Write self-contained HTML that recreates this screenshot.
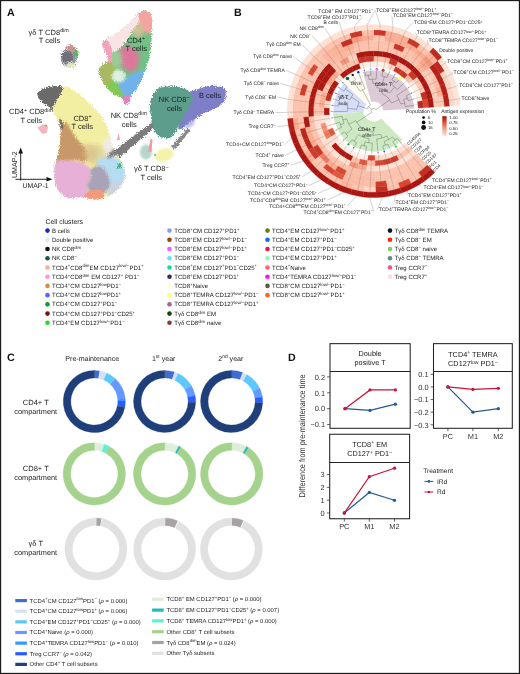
<!DOCTYPE html>
<html lang="en"><head><meta charset="utf-8"><title>Figure</title>
<style>html,body{margin:0;padding:0;background:#fff}body{width:520px;height:674px;overflow:hidden;font-family:"Liberation Sans", sans-serif}</style></head>
<body>
<svg width="520" height="674" viewBox="0 0 520 674" style="display:block;text-rendering:geometricPrecision" font-family='"Liberation Sans", sans-serif'>
<rect x="0" y="0" width="520" height="674" fill="#fff"/>
<g id="panelA">
<defs>
<filter id="b05" x="-20%" y="-20%" width="140%" height="140%"><feGaussianBlur stdDeviation="0.6"/></filter>
<filter id="b1" x="-30%" y="-30%" width="160%" height="160%"><feGaussianBlur stdDeviation="1.2"/></filter>
<filter id="b2" x="-40%" y="-40%" width="180%" height="180%"><feGaussianBlur stdDeviation="2"/></filter>
<filter id="b3" x="-50%" y="-50%" width="200%" height="200%"><feGaussianBlur stdDeviation="3"/></filter>
<filter id="grain" x="-10%" y="-10%" width="120%" height="120%"><feTurbulence type="fractalNoise" baseFrequency="0.9" numOctaves="2" seed="3" result="n"/><feDisplacementMap in="SourceGraphic" in2="n" scale="5" xChannelSelector="R" yChannelSelector="G"/><feGaussianBlur stdDeviation="0.45"/></filter>
<clipPath id="cCD8"><path d="M37.1 95.1 C36.9 93.1 39.1 91.3 41.0 90.0 C42.9 88.7 45.0 87.8 48.2 87.1 C51.4 86.4 56.6 85.8 60.3 86.0 C64.0 86.2 66.4 86.1 70.4 88.1 C74.4 90.1 80.1 94.5 84.5 98.2 C88.9 101.9 93.1 106.3 96.6 110.3 C100.1 114.3 103.5 118.4 105.7 122.4 C107.9 126.4 108.6 130.5 109.8 134.5 C111.0 138.5 110.9 142.2 112.8 146.6 C114.7 151.0 118.9 156.8 120.9 160.8 C122.9 164.9 124.4 167.5 124.9 170.9 C125.4 174.3 125.2 177.7 123.9 181.0 C122.6 184.3 119.7 188.3 116.8 191.0 C113.9 193.7 110.4 195.7 106.7 197.1 C103.0 198.5 98.6 199.4 94.6 199.4 C90.6 199.4 86.9 197.5 82.5 197.3 C78.1 197.1 72.1 198.8 68.4 198.1 C64.7 197.4 62.5 195.6 60.3 193.1 C58.1 190.6 56.2 186.7 55.2 183.0 C54.2 179.3 54.0 174.6 54.2 170.9 C54.4 167.2 55.4 164.5 56.3 160.8 C57.1 157.1 58.6 152.4 59.3 148.7 C60.0 145.0 60.1 142.0 60.3 138.6 C60.5 135.2 61.0 131.9 60.3 128.5 C59.6 125.1 58.0 121.8 56.3 118.4 C54.6 115.0 52.6 111.0 50.2 108.3 C47.8 105.6 44.3 104.4 42.1 102.2 C39.9 100.0 37.3 97.1 37.1 95.1 Z"/></clipPath>
<clipPath id="cCD4"><path d="M143.9 10.6 C146.1 10.3 149.1 10.8 150.4 13.1 C151.8 15.4 151.8 19.9 152.0 24.5 C152.2 29.1 152.1 35.4 151.7 40.8 C151.3 46.2 150.8 51.9 149.6 57.1 C148.4 62.3 146.5 67.2 144.7 71.8 C142.9 76.4 141.3 80.8 139.0 84.9 C136.7 89.0 132.3 93.5 130.8 96.3 C129.3 99.1 130.9 100.6 130.0 102.0 C129.1 103.4 126.5 105.2 125.1 104.5 C123.7 103.8 123.6 99.5 121.8 97.9 C120.0 96.3 117.3 96.9 114.5 94.7 C111.7 92.5 107.3 88.7 104.7 84.9 C102.1 81.1 99.5 75.1 99.0 71.8 C98.5 68.5 99.9 67.2 101.4 65.3 C102.9 63.4 107.9 63.9 108.0 60.4 C108.1 56.9 102.5 47.5 102.2 44.1 C101.9 40.7 102.3 43.0 106.3 40.0 C110.2 37.0 120.7 30.3 125.9 26.1 C131.1 21.9 134.3 17.3 137.3 14.7 C140.3 12.1 141.7 10.9 143.9 10.6 Z"/></clipPath>
<clipPath id="cNK"><path d="M153.1 94.2 C154.5 92.2 156.4 89.4 159.2 88.1 C162.0 86.8 166.4 86.3 170.0 86.2 C173.6 86.1 177.7 86.5 180.8 87.3 C183.9 88.1 186.5 89.7 188.5 91.2 C190.5 92.7 192.2 94.2 192.6 96.5 C193.0 98.8 192.0 102.0 190.8 105.0 C189.6 108.0 187.2 111.1 185.4 114.2 C183.6 117.3 181.7 120.4 180.0 123.5 C178.3 126.6 177.3 130.3 175.4 132.7 C173.5 135.1 171.2 137.5 168.5 138.1 C165.8 138.7 161.6 137.9 159.2 136.5 C156.8 135.1 155.1 132.3 153.8 129.6 C152.5 126.9 152.1 124.0 151.5 120.4 C150.9 116.8 150.1 111.4 150.0 108.1 C149.9 104.8 150.3 102.7 150.8 100.4 C151.3 98.1 151.7 96.2 153.1 94.2 Z"/></clipPath>
<clipPath id="cB"><path d="M187.0 97.0 C187.8 93.9 189.3 92.8 191.0 91.5 C192.7 90.2 194.6 90.3 197.0 89.5 C199.4 88.7 202.2 87.4 205.4 86.8 C208.6 86.2 213.1 85.6 216.2 85.8 C219.3 86.0 222.1 86.7 223.8 88.1 C225.5 89.5 226.5 91.9 226.5 94.2 C226.5 96.5 225.5 99.6 223.8 101.9 C222.1 104.2 219.3 106.3 216.2 108.1 C213.1 109.9 208.6 111.1 205.4 112.7 C202.2 114.3 199.7 115.8 197.0 117.5 C194.3 119.2 191.9 121.2 189.5 123.0 C187.1 124.8 184.3 127.6 182.5 128.5 C180.7 129.4 178.9 129.8 178.5 128.5 C178.1 127.2 178.8 124.1 180.0 121.0 C181.2 117.9 184.8 114.0 186.0 110.0 C187.2 106.0 186.2 100.1 187.0 97.0 Z"/></clipPath>
</defs>
<g filter="url(#grain)">
<path d="M111.5 156.5 L114 150.5 L156 119.5 L159.5 123 L117.5 159 Z" fill="#7b7b7b" filter="url(#b05)"/>
<path d="M171 147 L187 128.5 L190.5 130 L175 149.5 Z" fill="#8a8a8a" filter="url(#b05)"/>
</g>
<g filter="url(#grain)"><g clip-path="url(#cCD8)">
<path d="M37.1 95.1 C36.9 93.1 39.1 91.3 41.0 90.0 C42.9 88.7 45.0 87.8 48.2 87.1 C51.4 86.4 56.6 85.8 60.3 86.0 C64.0 86.2 66.4 86.1 70.4 88.1 C74.4 90.1 80.1 94.5 84.5 98.2 C88.9 101.9 93.1 106.3 96.6 110.3 C100.1 114.3 103.5 118.4 105.7 122.4 C107.9 126.4 108.6 130.5 109.8 134.5 C111.0 138.5 110.9 142.2 112.8 146.6 C114.7 151.0 118.9 156.8 120.9 160.8 C122.9 164.9 124.4 167.5 124.9 170.9 C125.4 174.3 125.2 177.7 123.9 181.0 C122.6 184.3 119.7 188.3 116.8 191.0 C113.9 193.7 110.4 195.7 106.7 197.1 C103.0 198.5 98.6 199.4 94.6 199.4 C90.6 199.4 86.9 197.5 82.5 197.3 C78.1 197.1 72.1 198.8 68.4 198.1 C64.7 197.4 62.5 195.6 60.3 193.1 C58.1 190.6 56.2 186.7 55.2 183.0 C54.2 179.3 54.0 174.6 54.2 170.9 C54.4 167.2 55.4 164.5 56.3 160.8 C57.1 157.1 58.6 152.4 59.3 148.7 C60.0 145.0 60.1 142.0 60.3 138.6 C60.5 135.2 61.0 131.9 60.3 128.5 C59.6 125.1 58.0 121.8 56.3 118.4 C54.6 115.0 52.6 111.0 50.2 108.3 C47.8 105.6 44.3 104.4 42.1 102.2 C39.9 100.0 37.3 97.1 37.1 95.1 Z" fill="#f3efa2"/>
<path d="M107.7 137.6 C109.4 137.6 112.0 139.7 113.8 142.6 C115.7 145.5 119.4 151.9 118.9 154.7 C118.3 157.6 113.1 160.1 110.8 159.8 C108.5 159.4 106.3 155.6 105.1 152.7 C103.9 149.8 103.3 145.1 103.7 142.6 C104.1 140.1 106.1 137.6 107.7 137.6 Z" fill="#efece8" filter="url(#b1)" opacity="1"/>
<path d="M90.6 146.6 C91.9 143.9 96.0 142.9 98.7 144.6 C101.4 146.3 106.7 153.4 106.7 156.7 C106.7 160.1 101.4 164.1 98.7 164.8 C96.0 165.5 91.9 163.8 90.6 160.8 C89.2 157.7 89.2 149.3 90.6 146.6 Z" fill="#e3d6a0" filter="url(#b2)" opacity="1"/>
<path d="M58.3 125.4 C59.6 122.8 64.1 121.8 66.3 122.8 C68.6 123.8 70.1 128.5 72.0 131.5 C74.0 134.5 75.9 138.0 78.1 140.6 C80.2 143.2 83.1 144.4 84.9 147.0 C86.7 149.7 89.2 153.9 89.0 156.3 C88.7 158.8 85.6 161.2 83.5 161.8 C81.4 162.4 79.0 159.8 76.4 159.8 C73.9 159.8 72.1 161.3 68.4 161.8 C64.7 162.3 56.6 164.6 54.2 162.8 C51.9 160.9 53.6 154.7 54.2 150.7 C54.9 146.6 57.6 142.8 58.3 138.6 C58.9 134.4 56.9 128.1 58.3 125.4 Z" fill="#c99868" filter="url(#b1)" opacity="1"/>
<path d="M84.5 144.6 C85.5 142.1 90.4 143.9 92.6 145.6 C94.8 147.3 97.6 151.9 97.6 154.7 C97.6 157.6 94.5 161.8 92.6 162.8 C90.7 163.8 87.9 163.8 86.5 160.8 C85.2 157.7 83.5 147.1 84.5 144.6 Z" fill="#d9c58c" filter="url(#b2)" opacity="0.85"/>
<path d="M96.6 161.8 C97.3 159.9 101.7 157.4 104.7 156.7 C107.7 156.1 111.8 156.6 114.8 157.7 C117.8 158.9 120.9 161.3 122.9 163.8 C124.9 166.3 126.6 169.5 126.9 172.9 C127.3 176.3 126.6 180.6 124.9 184.0 C123.2 187.4 119.5 192.2 116.8 193.1 C114.1 193.9 110.4 192.1 108.8 189.0 C107.1 186.0 108.1 178.4 106.7 174.9 C105.4 171.4 102.4 170.0 100.7 167.8 C99.0 165.7 96.0 163.6 96.6 161.8 Z" fill="#b5dcf1" filter="url(#b1)" opacity="1"/>
<path d="M52.2 161.8 C55.1 160.0 64.0 160.5 68.4 160.4 C72.7 160.3 75.1 160.1 78.5 161.2 C81.8 162.3 86.4 164.2 88.6 166.8 C90.7 169.5 91.8 173.6 91.6 176.9 C91.4 180.3 87.9 183.0 87.6 187.0 C87.2 191.1 91.1 198.8 89.6 201.2 C88.1 203.5 82.0 201.2 78.5 201.2 C74.9 201.2 71.7 202.2 68.4 201.2 C65.0 200.2 61.0 198.1 58.3 195.1 C55.6 192.1 53.4 187.0 52.2 183.0 C51.0 178.9 51.2 174.4 51.2 170.9 C51.2 167.3 49.4 163.5 52.2 161.8 Z" fill="#e7b0d6" filter="url(#b1)" opacity="1"/>
<path d="M90.6 168.9 C92.2 167.1 97.8 165.4 100.7 166.4 C103.5 167.4 106.2 171.5 107.7 174.9 C109.3 178.3 110.8 183.8 109.8 187.0 C108.8 190.2 104.9 193.3 101.7 194.1 C98.5 194.9 93.0 193.6 90.6 192.1 C88.2 190.6 87.0 187.5 87.1 185.0 C87.2 182.5 90.6 179.6 91.2 176.9 C91.8 174.2 89.0 170.6 90.6 168.9 Z" fill="#a9a3ba" filter="url(#b1)" opacity="1"/>
<path d="M110.8 185.0 C112.6 182.5 116.8 180.6 118.9 181.0 C120.9 181.3 123.6 184.7 122.9 187.0 C122.2 189.4 117.3 193.6 114.8 195.1 C112.3 196.6 108.4 197.8 107.7 196.1 C107.1 194.4 108.9 187.5 110.8 185.0 Z" fill="#c9d3e0" filter="url(#b1)" opacity="1"/>
<path d="M85.5 193.5 C86.5 191.4 91.8 190.0 94.6 189.7 C97.5 189.3 101.4 189.8 102.7 191.7 C104.0 193.6 105.1 199.4 102.7 201.2 C100.3 202.9 91.4 203.5 88.6 202.2 C85.7 200.9 84.5 195.6 85.5 193.5 Z" fill="#f59a7a" filter="url(#b05)" opacity="1"/>
<ellipse cx="119.3" cy="165.8" rx="2.4" ry="2.8" fill="#52b184" filter="url(#b05)" opacity="1"/>
<ellipse cx="61.2" cy="124" rx="1.5" ry="5.5" fill="#6b6b6b" filter="url(#b05)" opacity="1" transform="rotate(-12 61.2 124)"/>
<path d="M33 97 L38 88 L47 84 L63 83.5 L62 92 L56 101 L51 110 L40 104 Z" fill="#6b6b6b" filter="url(#b05)"/>
<path d="M107 159 L110 152 L122 144 L126 151 Z" fill="#7a7a7a" filter="url(#b1)"/>
</g></g>
<g filter="url(#grain)"><g clip-path="url(#cCD4)">
<path d="M143.9 10.6 C146.1 10.3 149.1 10.8 150.4 13.1 C151.8 15.4 151.8 19.9 152.0 24.5 C152.2 29.1 152.1 35.4 151.7 40.8 C151.3 46.2 150.8 51.9 149.6 57.1 C148.4 62.3 146.5 67.2 144.7 71.8 C142.9 76.4 141.3 80.8 139.0 84.9 C136.7 89.0 132.3 93.5 130.8 96.3 C129.3 99.1 130.9 100.6 130.0 102.0 C129.1 103.4 126.5 105.2 125.1 104.5 C123.7 103.8 123.6 99.5 121.8 97.9 C120.0 96.3 117.3 96.9 114.5 94.7 C111.7 92.5 107.3 88.7 104.7 84.9 C102.1 81.1 99.5 75.1 99.0 71.8 C98.5 68.5 99.9 67.2 101.4 65.3 C102.9 63.4 107.9 63.9 108.0 60.4 C108.1 56.9 102.5 47.5 102.2 44.1 C101.9 40.7 102.3 43.0 106.3 40.0 C110.2 37.0 120.7 30.3 125.9 26.1 C131.1 21.9 134.3 17.3 137.3 14.7 C140.3 12.1 141.7 10.9 143.9 10.6 Z" fill="#6fc384"/>
<path d="M135.7 14.7 C136.9 12.6 141.1 9.5 143.9 9.0 C146.6 8.4 150.3 8.8 152.0 11.4 C153.7 14.0 154.0 20.8 154.0 24.5 C154.0 28.2 153.4 32.1 152.0 33.5 C150.6 34.8 147.4 33.6 145.5 32.6 C143.6 31.7 142.1 29.7 140.6 27.7 C139.1 25.8 137.3 23.4 136.5 21.2 C135.7 19.0 134.5 16.7 135.7 14.7 Z" fill="#f3a4a1" filter="url(#b1)" opacity="1"/>
<path d="M129.2 24.5 C130.3 22.6 135.2 19.0 137.3 19.6 C139.5 20.1 141.1 25.2 142.2 27.7 C143.3 30.3 144.9 33.6 143.9 35.1 C142.8 36.6 137.9 37.4 135.7 36.7 C133.5 36.0 131.9 33.1 130.8 31.0 C129.7 29.0 128.1 26.4 129.2 24.5 Z" fill="#dcc09a" filter="url(#b2)" opacity="0.9"/>
<path d="M119.4 50.6 C121.0 48.1 124.8 46.0 127.5 45.7 C130.3 45.4 133.8 46.8 135.7 49.0 C137.6 51.1 138.8 55.5 139.0 58.8 C139.1 62.0 138.1 66.4 136.5 68.5 C134.9 70.7 131.3 71.9 129.2 71.8 C127.0 71.7 125.3 69.6 123.5 67.7 C121.6 65.8 118.8 63.2 118.1 60.4 C117.4 57.5 117.8 53.0 119.4 50.6 Z" fill="#e8709f" filter="url(#b2)" opacity="0.92"/>
<path d="M110.4 53.9 C111.9 51.1 115.7 47.6 117.7 49.0 C119.8 50.3 122.9 58.6 122.6 62.0 C122.4 65.4 118.4 68.8 116.1 69.4 C113.8 69.9 109.7 67.9 108.8 65.3 C107.8 62.7 108.9 56.6 110.4 53.9 Z" fill="#9ccf9a" filter="url(#b2)" opacity="0.9"/>
<path d="M96.5 71.8 C96.4 68.8 97.9 66.3 99.8 64.5 C101.7 62.6 105.7 60.6 108.0 60.7 C110.2 60.9 112.0 63.2 113.2 65.3 C114.3 67.4 115.1 70.4 114.8 73.4 C114.5 76.5 113.0 81.3 111.5 83.6 C110.1 85.9 108.1 87.5 106.3 87.3 C104.5 87.1 102.2 85.0 100.6 82.4 C99.0 79.8 96.7 74.8 96.5 71.8 Z" fill="#a9b962" filter="url(#b1)" opacity="1"/>
<path d="M117.7 84.9 C118.4 81.7 124.3 78.9 127.5 76.7 C130.8 74.5 134.2 72.6 137.3 71.8 C140.5 71.0 145.8 69.5 146.3 71.8 C146.9 74.1 142.8 81.5 140.6 85.7 C138.4 89.9 136.1 95.5 133.3 97.1 C130.4 98.7 126.0 97.5 123.5 95.5 C120.9 93.4 117.1 88.0 117.7 84.9 Z" fill="#72b2ea" filter="url(#b1)" opacity="1"/>
<path d="M104.7 87.3 C104.4 84.9 110.5 81.7 112.8 81.6 C115.2 81.5 116.8 83.9 118.6 86.5 C120.3 89.1 124.1 95.5 123.5 97.1 C122.8 98.7 117.6 97.9 114.5 96.3 C111.4 94.7 105.0 89.8 104.7 87.3 Z" fill="#82c955" filter="url(#b1)" opacity="1"/>
<ellipse cx="118.6" cy="76.2" rx="6.8" ry="6.6" fill="#dff1de" filter="url(#b1)" opacity="1"/>
<path d="M105.5 39.2 C106.5 36.5 112.6 33.7 116.1 31.0 C119.7 28.3 123.3 25.6 126.7 22.8 C130.1 20.1 134.5 14.8 136.5 14.4 C138.6 14.0 139.6 17.8 139.0 20.4 C138.3 23.0 134.6 27.1 132.8 30.2 C130.9 33.3 129.8 36.3 127.9 39.2 C125.9 42.0 123.5 45.1 121.0 47.3 C118.6 49.6 114.9 52.6 113.2 52.6 C111.4 52.6 111.7 49.6 110.4 47.3 C109.1 45.1 104.6 41.9 105.5 39.2 Z" fill="#f8e3e5" filter="url(#b05)" opacity="1"/>
<path d="M100.6 44.4 C100.9 42.3 104.6 39.0 106.3 39.5 C108.0 40.0 109.7 44.9 110.7 47.3 C111.7 49.7 112.2 51.6 112.4 53.9 C112.5 56.1 112.3 59.5 111.5 60.7 C110.8 61.9 108.8 62.6 107.6 61.2 C106.4 59.8 105.5 55.0 104.4 52.2 C103.2 49.4 100.3 46.5 100.6 44.4 Z" fill="#f4a1b9" filter="url(#b05)" opacity="1"/>
<path d="M121.0 97.6 C122.2 96.0 130.0 95.1 131.6 96.0 C133.3 96.8 131.9 101.2 130.8 102.8 C129.7 104.5 126.4 106.6 124.8 105.8 C123.1 104.9 119.9 99.2 121.0 97.6 Z" fill="#e283c2" filter="url(#b05)" opacity="1"/>
</g></g>
<g filter="url(#grain)">
<path d="M187.0 97.0 C187.8 93.9 189.3 92.8 191.0 91.5 C192.7 90.2 194.6 90.3 197.0 89.5 C199.4 88.7 202.2 87.4 205.4 86.8 C208.6 86.2 213.1 85.6 216.2 85.8 C219.3 86.0 222.1 86.7 223.8 88.1 C225.5 89.5 226.5 91.9 226.5 94.2 C226.5 96.5 225.5 99.6 223.8 101.9 C222.1 104.2 219.3 106.3 216.2 108.1 C213.1 109.9 208.6 111.1 205.4 112.7 C202.2 114.3 199.7 115.8 197.0 117.5 C194.3 119.2 191.9 121.2 189.5 123.0 C187.1 124.8 184.3 127.6 182.5 128.5 C180.7 129.4 178.9 129.8 178.5 128.5 C178.1 127.2 178.8 124.1 180.0 121.0 C181.2 117.9 184.8 114.0 186.0 110.0 C187.2 106.0 186.2 100.1 187.0 97.0 Z" fill="#7e7ec9"/>
<path d="M153.1 94.2 C154.5 92.2 156.4 89.4 159.2 88.1 C162.0 86.8 166.4 86.3 170.0 86.2 C173.6 86.1 177.7 86.5 180.8 87.3 C183.9 88.1 186.5 89.7 188.5 91.2 C190.5 92.7 192.2 94.2 192.6 96.5 C193.0 98.8 192.0 102.0 190.8 105.0 C189.6 108.0 187.2 111.1 185.4 114.2 C183.6 117.3 181.7 120.4 180.0 123.5 C178.3 126.6 177.3 130.3 175.4 132.7 C173.5 135.1 171.2 137.5 168.5 138.1 C165.8 138.7 161.6 137.9 159.2 136.5 C156.8 135.1 155.1 132.3 153.8 129.6 C152.5 126.9 152.1 124.0 151.5 120.4 C150.9 116.8 150.1 111.4 150.0 108.1 C149.9 104.8 150.3 102.7 150.8 100.4 C151.3 98.1 151.7 96.2 153.1 94.2 Z" fill="#5d9d8c"/>
</g>
<ellipse cx="190" cy="124" rx="6" ry="3" fill="#9a9ad6" filter="url(#b1)" opacity="0.6" transform="rotate(-40 190 124)"/>
<ellipse cx="146" cy="152" rx="6" ry="7.5" fill="#b6d6cd" filter="url(#b1)" opacity="1"/>
<ellipse cx="164" cy="155" rx="10" ry="6.5" fill="#f3f3aa" filter="url(#b1)" opacity="1" transform="rotate(-15 164 155)"/>
<path d="M148 152 L150.5 139 L152.5 139.5 L151.5 152 Z" fill="#f29a9a" filter="url(#b05)"/>
<circle cx="155" cy="155" r="0.8" fill="#3355cc"/>
<path d="M117 140 L118.5 133 L120 140 Z" fill="#f0a0c0" filter="url(#b05)"/>
<g filter="url(#grain)">
<ellipse cx="69" cy="57" rx="8" ry="10" fill="#8f9aa0" filter="url(#b05)" opacity="1" transform="rotate(10 69 57)"/>
<ellipse cx="71" cy="49" rx="5" ry="4" fill="#c99393" filter="url(#b05)" opacity="1"/>
<ellipse cx="67" cy="57" rx="5.5" ry="6" fill="#70707a" filter="url(#b05)" opacity="1"/>
<ellipse cx="76" cy="53" rx="2.5" ry="4" fill="#62b162" filter="url(#b05)" opacity="1"/>
<ellipse cx="71" cy="65" rx="5" ry="3" fill="#dfe6c0" filter="url(#b05)" opacity="1"/>
</g>
<path d="M37.3 127.8 L43.5 124.3 L48 126.3 L46.8 132.8 L42.5 134 Z" fill="#f5b3c2" filter="url(#b05)"/>
<ellipse cx="45.8" cy="125.6" rx="1.6" ry="1.1" fill="#9cc070" filter="url(#b05)" opacity="1"/>
<path d="M20.7 180.5 V152" stroke="#111" stroke-width="0.9" fill="none"/>
<path d="M20.7 147.5 L18.4 153.5 H23 Z" fill="#111"/>
<path d="M15.5 179.3 H47" stroke="#111" stroke-width="0.9" fill="none"/>
<path d="M52.5 179.3 L46.5 177 V181.6 Z" fill="#111"/>
<text transform="translate(17.0 178.0) rotate(-90)" font-size="7.1" fill="#222">UMAP-2</text>
<text x="22.50" y="188.20" font-size="6.90" text-anchor="start" fill="#222" >UMAP-1</text>
<text x="48.70" y="35.00" font-size="7.50" text-anchor="middle" fill="#222" >γδ T CD8<tspan dy="-2.70" font-size="5.40">dim</tspan></text>
<text x="49.40" y="43.30" font-size="7.50" text-anchor="middle" fill="#222" >T cells</text>
<text x="136.00" y="42.50" font-size="7.50" text-anchor="middle" fill="#222" >CD4<tspan dy="-2.70" font-size="5.40">+</tspan></text>
<text x="136.20" y="51.40" font-size="7.50" text-anchor="middle" fill="#222" >T cells</text>
<text x="174.20" y="101.50" font-size="7.50" text-anchor="middle" fill="#222" >NK CD8<tspan dy="-2.70" font-size="5.40">−</tspan></text>
<text x="174.40" y="110.80" font-size="7.50" text-anchor="middle" fill="#222" >cells</text>
<text x="210.00" y="97.80" font-size="7.50" text-anchor="middle" fill="#222" >B cells</text>
<text x="128.80" y="118.00" font-size="7.50" text-anchor="middle" fill="#222" >NK CD8<tspan dy="-2.70" font-size="5.40">dim</tspan></text>
<text x="129.30" y="127.00" font-size="7.50" text-anchor="middle" fill="#222" >cells</text>
<text x="151.30" y="171.40" font-size="7.50" text-anchor="middle" fill="#222" >γδ T CD8<tspan dy="-2.70" font-size="5.40">−</tspan></text>
<text x="151.20" y="180.40" font-size="7.50" text-anchor="middle" fill="#222" >T cells</text>
<text x="82.50" y="120.60" font-size="7.50" text-anchor="middle" fill="#222" >CD8<tspan dy="-2.70" font-size="5.40">+</tspan></text>
<text x="82.30" y="129.00" font-size="7.50" text-anchor="middle" fill="#222" >T cells</text>
<text x="31.00" y="114.30" font-size="7.50" text-anchor="middle" fill="#222" >CD4<tspan dy="-2.70" font-size="5.40">+</tspan><tspan dy="2.70"> CD8</tspan><tspan dy="-2.70" font-size="5.40">dim</tspan></text>
<text x="31.20" y="123.10" font-size="7.50" text-anchor="middle" fill="#222" >T cells</text>
<text x="7.00" y="15.50" font-size="10.70" text-anchor="start" fill="#111" font-weight="bold" >A</text>
</g>
<g id="panelB">
<path d="M423.55 107.78 A49.85 49.85 0 0 0 422.50 100.35 L417.37 101.47 A44.60 44.60 0 0 1 418.31 108.12 Z" fill="#c0291e" stroke="#c0291e" stroke-width="0.3"/>
<path d="M428.79 107.44 A55.10 55.10 0 0 0 427.63 99.22 L422.50 100.35 A49.85 49.85 0 0 1 423.55 107.78 Z" fill="#dc4732" stroke="#dc4732" stroke-width="0.3"/>
<path d="M434.02 107.11 A60.35 60.35 0 0 0 432.76 98.10 L427.63 99.22 A55.10 55.10 0 0 1 428.79 107.44 Z" fill="#ac1510" stroke="#ac1510" stroke-width="0.3"/>
<path d="M439.26 106.77 A65.60 65.60 0 0 0 437.88 96.98 L432.76 98.10 A60.35 60.35 0 0 1 434.02 107.11 Z" fill="#fdccb8" stroke="#fdccb8" stroke-width="0.3"/>
<path d="M444.50 106.43 A70.85 70.85 0 0 0 443.01 95.86 L437.88 96.98 A65.60 65.60 0 0 1 439.26 106.77 Z" fill="#fdccb8" stroke="#fdccb8" stroke-width="0.3"/>
<path d="M449.74 106.09 A76.10 76.10 0 0 0 448.14 94.74 L443.01 95.86 A70.85 70.85 0 0 1 444.50 106.43 Z" fill="#b72017" stroke="#b72017" stroke-width="0.3"/>
<path d="M454.98 105.75 A81.35 81.35 0 0 0 453.27 93.61 L448.14 94.74 A76.10 76.10 0 0 1 449.74 106.09 Z" fill="#fdd7c7" stroke="#fdd7c7" stroke-width="0.3"/>
<path d="M460.22 105.41 A86.60 86.60 0 0 0 458.40 92.49 L453.27 93.61 A81.35 81.35 0 0 1 454.98 105.75 Z" fill="#fee5da" stroke="#fee5da" stroke-width="0.3"/>
<path d="M422.50 100.35 A49.85 49.85 0 0 0 420.35 93.15 L415.44 95.03 A44.60 44.60 0 0 1 417.37 101.47 Z" fill="#ffefe7" stroke="#ffefe7" stroke-width="0.3"/>
<path d="M427.63 99.22 A55.10 55.10 0 0 0 425.25 91.27 L420.35 93.15 A49.85 49.85 0 0 1 422.50 100.35 Z" fill="#c63022" stroke="#c63022" stroke-width="0.3"/>
<path d="M432.76 98.10 A60.35 60.35 0 0 0 430.15 89.39 L425.25 91.27 A55.10 55.10 0 0 1 427.63 99.22 Z" fill="#ac1510" stroke="#ac1510" stroke-width="0.3"/>
<path d="M437.88 96.98 A65.60 65.60 0 0 0 435.05 87.51 L430.15 89.39 A60.35 60.35 0 0 1 432.76 98.10 Z" fill="#fdccb8" stroke="#fdccb8" stroke-width="0.3"/>
<path d="M443.01 95.86 A70.85 70.85 0 0 0 439.95 85.63 L435.05 87.51 A65.60 65.60 0 0 1 437.88 96.98 Z" fill="#fab198" stroke="#fab198" stroke-width="0.3"/>
<path d="M448.14 94.74 A76.10 76.10 0 0 0 444.85 83.75 L439.95 85.63 A70.85 70.85 0 0 1 443.01 95.86 Z" fill="#b72017" stroke="#b72017" stroke-width="0.3"/>
<path d="M453.27 93.61 A81.35 81.35 0 0 0 449.76 81.87 L444.85 83.75 A76.10 76.10 0 0 1 448.14 94.74 Z" fill="#fdd4c3" stroke="#fdd4c3" stroke-width="0.3"/>
<path d="M458.40 92.49 A86.60 86.60 0 0 0 454.66 79.99 L449.76 81.87 A81.35 81.35 0 0 1 453.27 93.61 Z" fill="#fee5da" stroke="#fee5da" stroke-width="0.3"/>
<path d="M420.35 93.15 A49.85 49.85 0 0 0 417.14 86.36 L412.57 88.96 A44.60 44.60 0 0 1 415.44 95.03 Z" fill="#ffefe7" stroke="#ffefe7" stroke-width="0.3"/>
<path d="M425.25 91.27 A55.10 55.10 0 0 0 421.70 83.77 L417.14 86.36 A49.85 49.85 0 0 1 420.35 93.15 Z" fill="#fcc6b1" stroke="#fcc6b1" stroke-width="0.3"/>
<path d="M430.15 89.39 A60.35 60.35 0 0 0 426.26 81.17 L421.70 83.77 A55.10 55.10 0 0 1 425.25 91.27 Z" fill="#ac1510" stroke="#ac1510" stroke-width="0.3"/>
<path d="M435.05 87.51 A65.60 65.60 0 0 0 430.83 78.58 L426.26 81.17 A60.35 60.35 0 0 1 430.15 89.39 Z" fill="#fdccb8" stroke="#fdccb8" stroke-width="0.3"/>
<path d="M439.95 85.63 A70.85 70.85 0 0 0 435.39 75.98 L430.83 78.58 A65.60 65.60 0 0 1 435.05 87.51 Z" fill="#fbc0a9" stroke="#fbc0a9" stroke-width="0.3"/>
<path d="M444.85 83.75 A76.10 76.10 0 0 0 439.96 73.39 L435.39 75.98 A70.85 70.85 0 0 1 439.95 85.63 Z" fill="#b72017" stroke="#b72017" stroke-width="0.3"/>
<path d="M449.76 81.87 A81.35 81.35 0 0 0 444.52 70.79 L439.96 73.39 A76.10 76.10 0 0 1 444.85 83.75 Z" fill="#fdd4c3" stroke="#fdd4c3" stroke-width="0.3"/>
<path d="M454.66 79.99 A86.60 86.60 0 0 0 449.08 68.20 L444.52 70.79 A81.35 81.35 0 0 1 449.76 81.87 Z" fill="#fee5da" stroke="#fee5da" stroke-width="0.3"/>
<path d="M417.14 86.36 A49.85 49.85 0 0 0 412.94 80.13 L408.82 83.38 A44.60 44.60 0 0 1 412.57 88.96 Z" fill="#ffefe7" stroke="#ffefe7" stroke-width="0.3"/>
<path d="M421.70 83.77 A55.10 55.10 0 0 0 417.07 76.88 L412.94 80.13 A49.85 49.85 0 0 1 417.14 86.36 Z" fill="#fdccb8" stroke="#fdccb8" stroke-width="0.3"/>
<path d="M426.26 81.17 A60.35 60.35 0 0 0 421.19 73.63 L417.07 76.88 A55.10 55.10 0 0 1 421.70 83.77 Z" fill="#ac1510" stroke="#ac1510" stroke-width="0.3"/>
<path d="M430.83 78.58 A65.60 65.60 0 0 0 425.31 70.38 L421.19 73.63 A60.35 60.35 0 0 1 426.26 81.17 Z" fill="#fdccb8" stroke="#fdccb8" stroke-width="0.3"/>
<path d="M435.39 75.98 A70.85 70.85 0 0 0 429.43 67.13 L425.31 70.38 A65.60 65.60 0 0 1 430.83 78.58 Z" fill="#fcc6b1" stroke="#fcc6b1" stroke-width="0.3"/>
<path d="M439.96 73.39 A76.10 76.10 0 0 0 433.55 63.88 L429.43 67.13 A70.85 70.85 0 0 1 435.39 75.98 Z" fill="#b72017" stroke="#b72017" stroke-width="0.3"/>
<path d="M444.52 70.79 A81.35 81.35 0 0 0 437.68 60.63 L433.55 63.88 A76.10 76.10 0 0 1 439.96 73.39 Z" fill="#c0291e" stroke="#c0291e" stroke-width="0.3"/>
<path d="M449.08 68.20 A86.60 86.60 0 0 0 441.80 57.37 L437.68 60.63 A81.35 81.35 0 0 1 444.52 70.79 Z" fill="#fee5da" stroke="#fee5da" stroke-width="0.3"/>
<path d="M412.94 80.13 A49.85 49.85 0 0 0 407.86 74.60 L404.27 78.43 A44.60 44.60 0 0 1 408.82 83.38 Z" fill="#fcc2ac" stroke="#fcc2ac" stroke-width="0.3"/>
<path d="M417.07 76.88 A55.10 55.10 0 0 0 411.45 70.77 L407.86 74.60 A49.85 49.85 0 0 1 412.94 80.13 Z" fill="#cd3727" stroke="#cd3727" stroke-width="0.3"/>
<path d="M421.19 73.63 A60.35 60.35 0 0 0 415.04 66.93 L411.45 70.77 A55.10 55.10 0 0 1 417.07 76.88 Z" fill="#ac1510" stroke="#ac1510" stroke-width="0.3"/>
<path d="M425.31 70.38 A65.60 65.60 0 0 0 418.62 63.10 L415.04 66.93 A60.35 60.35 0 0 1 421.19 73.63 Z" fill="#fab59d" stroke="#fab59d" stroke-width="0.3"/>
<path d="M429.43 67.13 A70.85 70.85 0 0 0 422.21 59.27 L418.62 63.10 A65.60 65.60 0 0 1 425.31 70.38 Z" fill="#f9a589" stroke="#f9a589" stroke-width="0.3"/>
<path d="M433.55 63.88 A76.10 76.10 0 0 0 425.80 55.43 L422.21 59.27 A70.85 70.85 0 0 1 429.43 67.13 Z" fill="#f69679" stroke="#f69679" stroke-width="0.3"/>
<path d="M437.68 60.63 A81.35 81.35 0 0 0 429.38 51.60 L425.80 55.43 A76.10 76.10 0 0 1 433.55 63.88 Z" fill="#fab198" stroke="#fab198" stroke-width="0.3"/>
<path d="M441.80 57.37 A86.60 86.60 0 0 0 432.97 47.77 L429.38 51.60 A81.35 81.35 0 0 1 437.68 60.63 Z" fill="#c0291e" stroke="#c0291e" stroke-width="0.3"/>
<path d="M407.86 74.60 A49.85 49.85 0 0 0 402.01 69.90 L399.04 74.23 A44.60 44.60 0 0 1 404.27 78.43 Z" fill="#cd3727" stroke="#cd3727" stroke-width="0.3"/>
<path d="M411.45 70.77 A55.10 55.10 0 0 0 404.98 65.57 L402.01 69.90 A49.85 49.85 0 0 1 407.86 74.60 Z" fill="#fcc2ac" stroke="#fcc2ac" stroke-width="0.3"/>
<path d="M415.04 66.93 A60.35 60.35 0 0 0 407.95 61.24 L404.98 65.57 A55.10 55.10 0 0 1 411.45 70.77 Z" fill="#ac1510" stroke="#ac1510" stroke-width="0.3"/>
<path d="M418.62 63.10 A65.60 65.60 0 0 0 410.92 56.91 L407.95 61.24 A60.35 60.35 0 0 1 415.04 66.93 Z" fill="#fcc2ac" stroke="#fcc2ac" stroke-width="0.3"/>
<path d="M422.21 59.27 A70.85 70.85 0 0 0 413.89 52.58 L410.92 56.91 A65.60 65.60 0 0 1 418.62 63.10 Z" fill="#fbbaa2" stroke="#fbbaa2" stroke-width="0.3"/>
<path d="M425.80 55.43 A76.10 76.10 0 0 0 416.86 48.25 L413.89 52.58 A70.85 70.85 0 0 1 422.21 59.27 Z" fill="#f9ab90" stroke="#f9ab90" stroke-width="0.3"/>
<path d="M429.38 51.60 A81.35 81.35 0 0 0 419.83 43.93 L416.86 48.25 A76.10 76.10 0 0 1 425.80 55.43 Z" fill="#fcc2ac" stroke="#fcc2ac" stroke-width="0.3"/>
<path d="M432.97 47.77 A86.60 86.60 0 0 0 422.80 39.60 L419.83 43.93 A81.35 81.35 0 0 1 429.38 51.60 Z" fill="#fee1d4" stroke="#fee1d4" stroke-width="0.3"/>
<path d="M402.01 69.90 A49.85 49.85 0 0 0 395.51 66.13 L393.23 70.85 A44.60 44.60 0 0 1 399.04 74.23 Z" fill="#cd3727" stroke="#cd3727" stroke-width="0.3"/>
<path d="M404.98 65.57 A55.10 55.10 0 0 0 397.80 61.40 L395.51 66.13 A49.85 49.85 0 0 1 402.01 69.90 Z" fill="#fcc2ac" stroke="#fcc2ac" stroke-width="0.3"/>
<path d="M407.95 61.24 A60.35 60.35 0 0 0 400.09 56.67 L397.80 61.40 A55.10 55.10 0 0 1 404.98 65.57 Z" fill="#ac1510" stroke="#ac1510" stroke-width="0.3"/>
<path d="M410.92 56.91 A65.60 65.60 0 0 0 402.37 51.95 L400.09 56.67 A60.35 60.35 0 0 1 407.95 61.24 Z" fill="#fcc2ac" stroke="#fcc2ac" stroke-width="0.3"/>
<path d="M413.89 52.58 A70.85 70.85 0 0 0 404.66 47.22 L402.37 51.95 A65.60 65.60 0 0 1 410.92 56.91 Z" fill="#fcc2ac" stroke="#fcc2ac" stroke-width="0.3"/>
<path d="M416.86 48.25 A76.10 76.10 0 0 0 406.95 42.50 L404.66 47.22 A70.85 70.85 0 0 1 413.89 52.58 Z" fill="#faad93" stroke="#faad93" stroke-width="0.3"/>
<path d="M419.83 43.93 A81.35 81.35 0 0 0 409.23 37.77 L406.95 42.50 A76.10 76.10 0 0 1 416.86 48.25 Z" fill="#cd3727" stroke="#cd3727" stroke-width="0.3"/>
<path d="M422.80 39.60 A86.60 86.60 0 0 0 411.52 33.05 L409.23 37.77 A81.35 81.35 0 0 1 419.83 43.93 Z" fill="#fee1d4" stroke="#fee1d4" stroke-width="0.3"/>
<path d="M395.51 66.13 A49.85 49.85 0 0 0 388.52 63.37 L386.97 68.39 A44.60 44.60 0 0 1 393.23 70.85 Z" fill="#fdd7c7" stroke="#fdd7c7" stroke-width="0.3"/>
<path d="M397.80 61.40 A55.10 55.10 0 0 0 390.08 58.36 L388.52 63.37 A49.85 49.85 0 0 1 395.51 66.13 Z" fill="#cd3727" stroke="#cd3727" stroke-width="0.3"/>
<path d="M400.09 56.67 A60.35 60.35 0 0 0 391.63 53.34 L390.08 58.36 A55.10 55.10 0 0 1 397.80 61.40 Z" fill="#ac1510" stroke="#ac1510" stroke-width="0.3"/>
<path d="M402.37 51.95 A65.60 65.60 0 0 0 393.18 48.33 L391.63 53.34 A60.35 60.35 0 0 1 400.09 56.67 Z" fill="#fcc2ac" stroke="#fcc2ac" stroke-width="0.3"/>
<path d="M404.66 47.22 A70.85 70.85 0 0 0 394.73 43.31 L393.18 48.33 A65.60 65.60 0 0 1 402.37 51.95 Z" fill="#cd3727" stroke="#cd3727" stroke-width="0.3"/>
<path d="M406.95 42.50 A76.10 76.10 0 0 0 396.28 38.30 L394.73 43.31 A70.85 70.85 0 0 1 404.66 47.22 Z" fill="#faad93" stroke="#faad93" stroke-width="0.3"/>
<path d="M409.23 37.77 A81.35 81.35 0 0 0 397.83 33.28 L396.28 38.30 A76.10 76.10 0 0 1 406.95 42.50 Z" fill="#faad93" stroke="#faad93" stroke-width="0.3"/>
<path d="M411.52 33.05 A86.60 86.60 0 0 0 399.38 28.26 L397.83 33.28 A81.35 81.35 0 0 1 409.23 37.77 Z" fill="#fee1d4" stroke="#fee1d4" stroke-width="0.3"/>
<path d="M388.52 63.37 A49.85 49.85 0 0 0 381.20 61.70 L380.42 66.89 A44.60 44.60 0 0 1 386.97 68.39 Z" fill="#ffefe7" stroke="#ffefe7" stroke-width="0.3"/>
<path d="M390.08 58.36 A55.10 55.10 0 0 0 381.98 56.51 L381.20 61.70 A49.85 49.85 0 0 1 388.52 63.37 Z" fill="#fcc2ac" stroke="#fcc2ac" stroke-width="0.3"/>
<path d="M391.63 53.34 A60.35 60.35 0 0 0 382.76 51.32 L381.98 56.51 A55.10 55.10 0 0 1 390.08 58.36 Z" fill="#ac1510" stroke="#ac1510" stroke-width="0.3"/>
<path d="M393.18 48.33 A65.60 65.60 0 0 0 383.54 46.13 L382.76 51.32 A60.35 60.35 0 0 1 391.63 53.34 Z" fill="#fcc2ac" stroke="#fcc2ac" stroke-width="0.3"/>
<path d="M394.73 43.31 A70.85 70.85 0 0 0 384.32 40.94 L383.54 46.13 A65.60 65.60 0 0 1 393.18 48.33 Z" fill="#fcc2ac" stroke="#fcc2ac" stroke-width="0.3"/>
<path d="M396.28 38.30 A76.10 76.10 0 0 0 385.10 35.74 L384.32 40.94 A70.85 70.85 0 0 1 394.73 43.31 Z" fill="#faad93" stroke="#faad93" stroke-width="0.3"/>
<path d="M397.83 33.28 A81.35 81.35 0 0 0 385.88 30.55 L385.10 35.74 A76.10 76.10 0 0 1 396.28 38.30 Z" fill="#faad93" stroke="#faad93" stroke-width="0.3"/>
<path d="M399.38 28.26 A86.60 86.60 0 0 0 386.66 25.36 L385.88 30.55 A81.35 81.35 0 0 1 397.83 33.28 Z" fill="#fee1d4" stroke="#fee1d4" stroke-width="0.3"/>
<path d="M381.20 61.70 A49.85 49.85 0 0 0 373.71 61.15 L373.72 66.40 A44.60 44.60 0 0 1 380.42 66.89 Z" fill="#ffefe7" stroke="#ffefe7" stroke-width="0.3"/>
<path d="M381.98 56.51 A55.10 55.10 0 0 0 373.70 55.90 L373.71 61.15 A49.85 49.85 0 0 1 381.20 61.70 Z" fill="#fcc2ac" stroke="#fcc2ac" stroke-width="0.3"/>
<path d="M382.76 51.32 A60.35 60.35 0 0 0 373.69 50.65 L373.70 55.90 A55.10 55.10 0 0 1 381.98 56.51 Z" fill="#ac1510" stroke="#ac1510" stroke-width="0.3"/>
<path d="M383.54 46.13 A65.60 65.60 0 0 0 373.69 45.40 L373.69 50.65 A60.35 60.35 0 0 1 382.76 51.32 Z" fill="#fcc2ac" stroke="#fcc2ac" stroke-width="0.3"/>
<path d="M384.32 40.94 A70.85 70.85 0 0 0 373.68 40.15 L373.69 45.40 A65.60 65.60 0 0 1 383.54 46.13 Z" fill="#fcc2ac" stroke="#fcc2ac" stroke-width="0.3"/>
<path d="M385.10 35.74 A76.10 76.10 0 0 0 373.67 34.90 L373.68 40.15 A70.85 70.85 0 0 1 384.32 40.94 Z" fill="#fcc6b1" stroke="#fcc6b1" stroke-width="0.3"/>
<path d="M385.88 30.55 A81.35 81.35 0 0 0 373.66 29.65 L373.67 34.90 A76.10 76.10 0 0 1 385.10 35.74 Z" fill="#cd3727" stroke="#cd3727" stroke-width="0.3"/>
<path d="M386.66 25.36 A86.60 86.60 0 0 0 373.65 24.40 L373.66 29.65 A81.35 81.35 0 0 1 385.88 30.55 Z" fill="#fee1d4" stroke="#fee1d4" stroke-width="0.3"/>
<path d="M373.71 61.15 A49.85 49.85 0 0 0 366.23 61.73 L367.02 66.92 A44.60 44.60 0 0 1 373.72 66.40 Z" fill="#ffefe7" stroke="#ffefe7" stroke-width="0.3"/>
<path d="M373.70 55.90 A55.10 55.10 0 0 0 365.43 56.54 L366.23 61.73 A49.85 49.85 0 0 1 373.71 61.15 Z" fill="#cd3727" stroke="#cd3727" stroke-width="0.3"/>
<path d="M373.69 50.65 A60.35 60.35 0 0 0 364.63 51.35 L365.43 56.54 A55.10 55.10 0 0 1 373.70 55.90 Z" fill="#ac1510" stroke="#ac1510" stroke-width="0.3"/>
<path d="M373.69 45.40 A65.60 65.60 0 0 0 363.83 46.16 L364.63 51.35 A60.35 60.35 0 0 1 373.69 50.65 Z" fill="#fcc2ac" stroke="#fcc2ac" stroke-width="0.3"/>
<path d="M373.68 40.15 A70.85 70.85 0 0 0 363.03 40.97 L363.83 46.16 A65.60 65.60 0 0 1 373.69 45.40 Z" fill="#fcc2ac" stroke="#fcc2ac" stroke-width="0.3"/>
<path d="M373.67 34.90 A76.10 76.10 0 0 0 362.24 35.78 L363.03 40.97 A70.85 70.85 0 0 1 373.68 40.15 Z" fill="#faad93" stroke="#faad93" stroke-width="0.3"/>
<path d="M373.66 29.65 A81.35 81.35 0 0 0 361.44 30.59 L362.24 35.78 A76.10 76.10 0 0 1 373.67 34.90 Z" fill="#fbc0a9" stroke="#fbc0a9" stroke-width="0.3"/>
<path d="M373.65 24.40 A86.60 86.60 0 0 0 360.64 25.41 L361.44 30.59 A81.35 81.35 0 0 1 373.66 29.65 Z" fill="#fee1d4" stroke="#fee1d4" stroke-width="0.3"/>
<path d="M366.23 61.73 A49.85 49.85 0 0 0 358.91 63.43 L360.48 68.44 A44.60 44.60 0 0 1 367.02 66.92 Z" fill="#ffefe7" stroke="#ffefe7" stroke-width="0.3"/>
<path d="M365.43 56.54 A55.10 55.10 0 0 0 357.34 58.42 L358.91 63.43 A49.85 49.85 0 0 1 366.23 61.73 Z" fill="#cd3727" stroke="#cd3727" stroke-width="0.3"/>
<path d="M364.63 51.35 A60.35 60.35 0 0 0 355.77 53.41 L357.34 58.42 A55.10 55.10 0 0 1 365.43 56.54 Z" fill="#ac1510" stroke="#ac1510" stroke-width="0.3"/>
<path d="M363.83 46.16 A65.60 65.60 0 0 0 354.20 48.39 L355.77 53.41 A60.35 60.35 0 0 1 364.63 51.35 Z" fill="#fcc2ac" stroke="#fcc2ac" stroke-width="0.3"/>
<path d="M363.03 40.97 A70.85 70.85 0 0 0 352.64 43.38 L354.20 48.39 A65.60 65.60 0 0 1 363.83 46.16 Z" fill="#fbbea7" stroke="#fbbea7" stroke-width="0.3"/>
<path d="M362.24 35.78 A76.10 76.10 0 0 0 351.07 38.37 L352.64 43.38 A70.85 70.85 0 0 1 363.03 40.97 Z" fill="#f89d7f" stroke="#f89d7f" stroke-width="0.3"/>
<path d="M361.44 30.59 A81.35 81.35 0 0 0 349.50 33.36 L351.07 38.37 A76.10 76.10 0 0 1 362.24 35.78 Z" fill="#cd3727" stroke="#cd3727" stroke-width="0.3"/>
<path d="M360.64 25.41 A86.60 86.60 0 0 0 347.93 28.35 L349.50 33.36 A81.35 81.35 0 0 1 361.44 30.59 Z" fill="#fee1d4" stroke="#fee1d4" stroke-width="0.3"/>
<path d="M358.91 63.43 A49.85 49.85 0 0 0 351.93 66.20 L354.23 70.92 A44.60 44.60 0 0 1 360.48 68.44 Z" fill="#af1711" stroke="#af1711" stroke-width="0.3"/>
<path d="M357.34 58.42 A55.10 55.10 0 0 0 349.63 61.48 L351.93 66.20 A49.85 49.85 0 0 1 358.91 63.43 Z" fill="#fcc2ac" stroke="#fcc2ac" stroke-width="0.3"/>
<path d="M355.77 53.41 A60.35 60.35 0 0 0 347.33 56.77 L349.63 61.48 A55.10 55.10 0 0 1 357.34 58.42 Z" fill="#fdd1bf" stroke="#fdd1bf" stroke-width="0.3"/>
<path d="M354.20 48.39 A65.60 65.60 0 0 0 345.02 52.05 L347.33 56.77 A60.35 60.35 0 0 1 355.77 53.41 Z" fill="#fbbaa2" stroke="#fbbaa2" stroke-width="0.3"/>
<path d="M352.64 43.38 A70.85 70.85 0 0 0 342.72 47.33 L345.02 52.05 A65.60 65.60 0 0 1 354.20 48.39 Z" fill="#faad93" stroke="#faad93" stroke-width="0.3"/>
<path d="M351.07 38.37 A76.10 76.10 0 0 0 340.42 42.61 L342.72 47.33 A70.85 70.85 0 0 1 352.64 43.38 Z" fill="#c63022" stroke="#c63022" stroke-width="0.3"/>
<path d="M349.50 33.36 A81.35 81.35 0 0 0 338.11 37.90 L340.42 42.61 A76.10 76.10 0 0 1 351.07 38.37 Z" fill="#fcc2ac" stroke="#fcc2ac" stroke-width="0.3"/>
<path d="M347.93 28.35 A86.60 86.60 0 0 0 335.81 33.18 L338.11 37.90 A81.35 81.35 0 0 1 349.50 33.36 Z" fill="#fee1d4" stroke="#fee1d4" stroke-width="0.3"/>
<path d="M351.93 66.20 A49.85 49.85 0 0 0 345.45 70.00 L348.44 74.31 A44.60 44.60 0 0 1 354.23 70.92 Z" fill="#af1711" stroke="#af1711" stroke-width="0.3"/>
<path d="M349.63 61.48 A55.10 55.10 0 0 0 342.46 65.68 L345.45 70.00 A49.85 49.85 0 0 1 351.93 66.20 Z" fill="#fcc2ac" stroke="#fcc2ac" stroke-width="0.3"/>
<path d="M347.33 56.77 A60.35 60.35 0 0 0 339.48 61.36 L342.46 65.68 A55.10 55.10 0 0 1 349.63 61.48 Z" fill="#f59376" stroke="#f59376" stroke-width="0.3"/>
<path d="M345.02 52.05 A65.60 65.60 0 0 0 336.49 57.04 L339.48 61.36 A60.35 60.35 0 0 1 347.33 56.77 Z" fill="#fab59d" stroke="#fab59d" stroke-width="0.3"/>
<path d="M342.72 47.33 A70.85 70.85 0 0 0 333.51 52.72 L336.49 57.04 A65.60 65.60 0 0 1 345.02 52.05 Z" fill="#fab198" stroke="#fab198" stroke-width="0.3"/>
<path d="M340.42 42.61 A76.10 76.10 0 0 0 330.52 48.40 L333.51 52.72 A70.85 70.85 0 0 1 342.72 47.33 Z" fill="#fab198" stroke="#fab198" stroke-width="0.3"/>
<path d="M338.11 37.90 A81.35 81.35 0 0 0 327.54 44.09 L330.52 48.40 A76.10 76.10 0 0 1 340.42 42.61 Z" fill="#fcc2ac" stroke="#fcc2ac" stroke-width="0.3"/>
<path d="M335.81 33.18 A86.60 86.60 0 0 0 324.55 39.77 L327.54 44.09 A81.35 81.35 0 0 1 338.11 37.90 Z" fill="#fee1d4" stroke="#fee1d4" stroke-width="0.3"/>
<path d="M345.45 70.00 A49.85 49.85 0 0 0 339.61 74.72 L343.21 78.54 A44.60 44.60 0 0 1 348.44 74.31 Z" fill="#af1711" stroke="#af1711" stroke-width="0.3"/>
<path d="M342.46 65.68 A55.10 55.10 0 0 0 336.01 70.90 L339.61 74.72 A49.85 49.85 0 0 1 345.45 70.00 Z" fill="#fcc2ac" stroke="#fcc2ac" stroke-width="0.3"/>
<path d="M339.48 61.36 A60.35 60.35 0 0 0 332.41 67.08 L336.01 70.90 A55.10 55.10 0 0 1 342.46 65.68 Z" fill="#fcc2ac" stroke="#fcc2ac" stroke-width="0.3"/>
<path d="M336.49 57.04 A65.60 65.60 0 0 0 328.81 63.26 L332.41 67.08 A60.35 60.35 0 0 1 339.48 61.36 Z" fill="#fbbaa2" stroke="#fbbaa2" stroke-width="0.3"/>
<path d="M333.51 52.72 A70.85 70.85 0 0 0 325.21 59.44 L328.81 63.26 A65.60 65.60 0 0 1 336.49 57.04 Z" fill="#fab59d" stroke="#fab59d" stroke-width="0.3"/>
<path d="M330.52 48.40 A76.10 76.10 0 0 0 321.61 55.62 L325.21 59.44 A70.85 70.85 0 0 1 333.51 52.72 Z" fill="#fab59d" stroke="#fab59d" stroke-width="0.3"/>
<path d="M327.54 44.09 A81.35 81.35 0 0 0 318.01 51.80 L321.61 55.62 A76.10 76.10 0 0 1 330.52 48.40 Z" fill="#fbc0a9" stroke="#fbc0a9" stroke-width="0.3"/>
<path d="M324.55 39.77 A86.60 86.60 0 0 0 314.41 47.97 L318.01 51.80 A81.35 81.35 0 0 1 327.54 44.09 Z" fill="#fee1d4" stroke="#fee1d4" stroke-width="0.3"/>
<path d="M339.61 74.72 A49.85 49.85 0 0 0 334.55 80.27 L338.68 83.50 A44.60 44.60 0 0 1 343.21 78.54 Z" fill="#fee5da" stroke="#fee5da" stroke-width="0.3"/>
<path d="M336.01 70.90 A55.10 55.10 0 0 0 330.42 77.03 L334.55 80.27 A49.85 49.85 0 0 1 339.61 74.72 Z" fill="#faad93" stroke="#faad93" stroke-width="0.3"/>
<path d="M332.41 67.08 A60.35 60.35 0 0 0 326.28 73.80 L330.42 77.03 A55.10 55.10 0 0 1 336.01 70.90 Z" fill="#af1711" stroke="#af1711" stroke-width="0.3"/>
<path d="M328.81 63.26 A65.60 65.60 0 0 0 322.15 70.56 L326.28 73.80 A60.35 60.35 0 0 1 332.41 67.08 Z" fill="#af1711" stroke="#af1711" stroke-width="0.3"/>
<path d="M325.21 59.44 A70.85 70.85 0 0 0 318.02 67.32 L322.15 70.56 A65.60 65.60 0 0 1 328.81 63.26 Z" fill="#fcc2ac" stroke="#fcc2ac" stroke-width="0.3"/>
<path d="M321.61 55.62 A76.10 76.10 0 0 0 313.88 64.09 L318.02 67.32 A70.85 70.85 0 0 1 325.21 59.44 Z" fill="#fcc2ac" stroke="#fcc2ac" stroke-width="0.3"/>
<path d="M318.01 51.80 A81.35 81.35 0 0 0 309.75 60.85 L313.88 64.09 A76.10 76.10 0 0 1 321.61 55.62 Z" fill="#fcc2ac" stroke="#fcc2ac" stroke-width="0.3"/>
<path d="M314.41 47.97 A86.60 86.60 0 0 0 305.61 57.61 L309.75 60.85 A81.35 81.35 0 0 1 318.01 51.80 Z" fill="#fee1d4" stroke="#fee1d4" stroke-width="0.3"/>
<path d="M334.55 80.27 A49.85 49.85 0 0 0 330.38 86.51 L334.95 89.09 A44.60 44.60 0 0 1 338.68 83.50 Z" fill="#af1711" stroke="#af1711" stroke-width="0.3"/>
<path d="M330.42 77.03 A55.10 55.10 0 0 0 325.81 83.93 L330.38 86.51 A49.85 49.85 0 0 1 334.55 80.27 Z" fill="#f9a78b" stroke="#f9a78b" stroke-width="0.3"/>
<path d="M326.28 73.80 A60.35 60.35 0 0 0 321.23 81.36 L325.81 83.93 A55.10 55.10 0 0 1 330.42 77.03 Z" fill="#af1711" stroke="#af1711" stroke-width="0.3"/>
<path d="M322.15 70.56 A65.60 65.60 0 0 0 316.66 78.78 L321.23 81.36 A60.35 60.35 0 0 1 326.28 73.80 Z" fill="#af1711" stroke="#af1711" stroke-width="0.3"/>
<path d="M318.02 67.32 A70.85 70.85 0 0 0 312.09 76.20 L316.66 78.78 A65.60 65.60 0 0 1 322.15 70.56 Z" fill="#fcc2ac" stroke="#fcc2ac" stroke-width="0.3"/>
<path d="M313.88 64.09 A76.10 76.10 0 0 0 307.51 73.62 L312.09 76.20 A70.85 70.85 0 0 1 318.02 67.32 Z" fill="#dc4732" stroke="#dc4732" stroke-width="0.3"/>
<path d="M309.75 60.85 A81.35 81.35 0 0 0 302.94 71.04 L307.51 73.62 A76.10 76.10 0 0 1 313.88 64.09 Z" fill="#fcc2ac" stroke="#fcc2ac" stroke-width="0.3"/>
<path d="M305.61 57.61 A86.60 86.60 0 0 0 298.37 68.46 L302.94 71.04 A81.35 81.35 0 0 1 309.75 60.85 Z" fill="#fee1d4" stroke="#fee1d4" stroke-width="0.3"/>
<path d="M330.38 86.51 A49.85 49.85 0 0 0 327.19 93.31 L332.10 95.18 A44.60 44.60 0 0 1 334.95 89.09 Z" fill="#af1711" stroke="#af1711" stroke-width="0.3"/>
<path d="M325.81 83.93 A55.10 55.10 0 0 0 322.28 91.45 L327.19 93.31 A49.85 49.85 0 0 1 330.38 86.51 Z" fill="#fcc6b1" stroke="#fcc6b1" stroke-width="0.3"/>
<path d="M321.23 81.36 A60.35 60.35 0 0 0 317.38 89.59 L322.28 91.45 A55.10 55.10 0 0 1 325.81 83.93 Z" fill="#af1711" stroke="#af1711" stroke-width="0.3"/>
<path d="M316.66 78.78 A65.60 65.60 0 0 0 312.47 87.73 L317.38 89.59 A60.35 60.35 0 0 1 321.23 81.36 Z" fill="#af1711" stroke="#af1711" stroke-width="0.3"/>
<path d="M312.09 76.20 A70.85 70.85 0 0 0 307.56 85.86 L312.47 87.73 A65.60 65.60 0 0 1 316.66 78.78 Z" fill="#fcc2ac" stroke="#fcc2ac" stroke-width="0.3"/>
<path d="M307.51 73.62 A76.10 76.10 0 0 0 302.65 84.00 L307.56 85.86 A70.85 70.85 0 0 1 312.09 76.20 Z" fill="#fcc2ac" stroke="#fcc2ac" stroke-width="0.3"/>
<path d="M302.94 71.04 A81.35 81.35 0 0 0 297.74 82.14 L302.65 84.00 A76.10 76.10 0 0 1 307.51 73.62 Z" fill="#fcc2ac" stroke="#fcc2ac" stroke-width="0.3"/>
<path d="M298.37 68.46 A86.60 86.60 0 0 0 292.83 80.28 L297.74 82.14 A81.35 81.35 0 0 1 302.94 71.04 Z" fill="#fee1d4" stroke="#fee1d4" stroke-width="0.3"/>
<path d="M327.19 93.31 A49.85 49.85 0 0 0 325.06 100.52 L330.20 101.62 A44.60 44.60 0 0 1 332.10 95.18 Z" fill="#c63022" stroke="#c63022" stroke-width="0.3"/>
<path d="M322.28 91.45 A55.10 55.10 0 0 0 319.93 99.41 L325.06 100.52 A49.85 49.85 0 0 1 327.19 93.31 Z" fill="#faad93" stroke="#faad93" stroke-width="0.3"/>
<path d="M317.38 89.59 A60.35 60.35 0 0 0 314.80 98.31 L319.93 99.41 A55.10 55.10 0 0 1 322.28 91.45 Z" fill="#fcc2ac" stroke="#fcc2ac" stroke-width="0.3"/>
<path d="M312.47 87.73 A65.60 65.60 0 0 0 309.67 97.20 L314.80 98.31 A60.35 60.35 0 0 1 317.38 89.59 Z" fill="#af1711" stroke="#af1711" stroke-width="0.3"/>
<path d="M307.56 85.86 A70.85 70.85 0 0 0 304.53 96.10 L309.67 97.20 A65.60 65.60 0 0 1 312.47 87.73 Z" fill="#fcc2ac" stroke="#fcc2ac" stroke-width="0.3"/>
<path d="M302.65 84.00 A76.10 76.10 0 0 0 299.40 95.00 L304.53 96.10 A70.85 70.85 0 0 1 307.56 85.86 Z" fill="#d13c2a" stroke="#d13c2a" stroke-width="0.3"/>
<path d="M297.74 82.14 A81.35 81.35 0 0 0 294.27 93.89 L299.40 95.00 A76.10 76.10 0 0 1 302.65 84.00 Z" fill="#fcc2ac" stroke="#fcc2ac" stroke-width="0.3"/>
<path d="M292.83 80.28 A86.60 86.60 0 0 0 289.14 92.79 L294.27 93.89 A81.35 81.35 0 0 1 297.74 82.14 Z" fill="#fee1d4" stroke="#fee1d4" stroke-width="0.3"/>
<path d="M325.06 100.52 A49.85 49.85 0 0 0 324.04 107.96 L329.28 108.28 A44.60 44.60 0 0 1 330.20 101.62 Z" fill="#fdd7c7" stroke="#fdd7c7" stroke-width="0.3"/>
<path d="M319.93 99.41 A55.10 55.10 0 0 0 318.80 107.64 L324.04 107.96 A49.85 49.85 0 0 1 325.06 100.52 Z" fill="#faad93" stroke="#faad93" stroke-width="0.3"/>
<path d="M314.80 98.31 A60.35 60.35 0 0 0 313.56 107.32 L318.80 107.64 A55.10 55.10 0 0 1 319.93 99.41 Z" fill="#fcc2ac" stroke="#fcc2ac" stroke-width="0.3"/>
<path d="M309.67 97.20 A65.60 65.60 0 0 0 308.32 107.00 L313.56 107.32 A60.35 60.35 0 0 1 314.80 98.31 Z" fill="#af1711" stroke="#af1711" stroke-width="0.3"/>
<path d="M304.53 96.10 A70.85 70.85 0 0 0 303.08 106.67 L308.32 107.00 A65.60 65.60 0 0 1 309.67 97.20 Z" fill="#fcc2ac" stroke="#fcc2ac" stroke-width="0.3"/>
<path d="M299.40 95.00 A76.10 76.10 0 0 0 297.84 106.35 L303.08 106.67 A70.85 70.85 0 0 1 304.53 96.10 Z" fill="#fcc2ac" stroke="#fcc2ac" stroke-width="0.3"/>
<path d="M294.27 93.89 A81.35 81.35 0 0 0 292.60 106.03 L297.84 106.35 A76.10 76.10 0 0 1 299.40 95.00 Z" fill="#fcc2ac" stroke="#fcc2ac" stroke-width="0.3"/>
<path d="M289.14 92.79 A86.60 86.60 0 0 0 287.36 105.71 L292.60 106.03 A81.35 81.35 0 0 1 294.27 93.89 Z" fill="#fee1d4" stroke="#fee1d4" stroke-width="0.3"/>
<path d="M324.04 107.96 A49.85 49.85 0 0 0 324.15 115.47 L329.38 115.00 A44.60 44.60 0 0 1 329.28 108.28 Z" fill="#af1711" stroke="#af1711" stroke-width="0.3"/>
<path d="M318.80 107.64 A55.10 55.10 0 0 0 318.92 115.94 L324.15 115.47 A49.85 49.85 0 0 1 324.04 107.96 Z" fill="#fcc2ac" stroke="#fcc2ac" stroke-width="0.3"/>
<path d="M313.56 107.32 A60.35 60.35 0 0 0 313.69 116.41 L318.92 115.94 A55.10 55.10 0 0 1 318.80 107.64 Z" fill="#fcc2ac" stroke="#fcc2ac" stroke-width="0.3"/>
<path d="M308.32 107.00 A65.60 65.60 0 0 0 308.46 116.88 L313.69 116.41 A60.35 60.35 0 0 1 313.56 107.32 Z" fill="#af1711" stroke="#af1711" stroke-width="0.3"/>
<path d="M303.08 106.67 A70.85 70.85 0 0 0 303.23 117.35 L308.46 116.88 A65.60 65.60 0 0 1 308.32 107.00 Z" fill="#fcc2ac" stroke="#fcc2ac" stroke-width="0.3"/>
<path d="M297.84 106.35 A76.10 76.10 0 0 0 298.01 117.82 L303.23 117.35 A70.85 70.85 0 0 1 303.08 106.67 Z" fill="#fcc2ac" stroke="#fcc2ac" stroke-width="0.3"/>
<path d="M292.60 106.03 A81.35 81.35 0 0 0 292.78 118.29 L298.01 117.82 A76.10 76.10 0 0 1 297.84 106.35 Z" fill="#fcc2ac" stroke="#fcc2ac" stroke-width="0.3"/>
<path d="M287.36 105.71 A86.60 86.60 0 0 0 287.55 118.76 L292.78 118.29 A81.35 81.35 0 0 1 292.60 106.03 Z" fill="#fee1d4" stroke="#fee1d4" stroke-width="0.3"/>
<path d="M324.15 115.47 A49.85 49.85 0 0 0 325.38 122.87 L330.48 121.62 A44.60 44.60 0 0 1 329.38 115.00 Z" fill="#fee8de" stroke="#fee8de" stroke-width="0.3"/>
<path d="M318.92 115.94 A55.10 55.10 0 0 0 320.29 124.12 L325.38 122.87 A49.85 49.85 0 0 1 324.15 115.47 Z" fill="#fee1d4" stroke="#fee1d4" stroke-width="0.3"/>
<path d="M313.69 116.41 A60.35 60.35 0 0 0 315.19 125.38 L320.29 124.12 A55.10 55.10 0 0 1 318.92 115.94 Z" fill="#feded0" stroke="#feded0" stroke-width="0.3"/>
<path d="M308.46 116.88 A65.60 65.60 0 0 0 310.09 126.63 L315.19 125.38 A60.35 60.35 0 0 1 313.69 116.41 Z" fill="#fcc2ac" stroke="#fcc2ac" stroke-width="0.3"/>
<path d="M303.23 117.35 A70.85 70.85 0 0 0 304.99 127.88 L310.09 126.63 A65.60 65.60 0 0 1 308.46 116.88 Z" fill="#af1711" stroke="#af1711" stroke-width="0.3"/>
<path d="M298.01 117.82 A76.10 76.10 0 0 0 299.89 129.13 L304.99 127.88 A70.85 70.85 0 0 1 303.23 117.35 Z" fill="#fcc2ac" stroke="#fcc2ac" stroke-width="0.3"/>
<path d="M292.78 118.29 A81.35 81.35 0 0 0 294.79 130.38 L299.89 129.13 A76.10 76.10 0 0 1 298.01 117.82 Z" fill="#faad93" stroke="#faad93" stroke-width="0.3"/>
<path d="M287.55 118.76 A86.60 86.60 0 0 0 289.69 131.63 L294.79 130.38 A81.35 81.35 0 0 1 292.78 118.29 Z" fill="#b72017" stroke="#b72017" stroke-width="0.3"/>
<path d="M325.38 122.87 A49.85 49.85 0 0 0 327.72 130.01 L332.57 128.01 A44.60 44.60 0 0 1 330.48 121.62 Z" fill="#ffefe7" stroke="#ffefe7" stroke-width="0.3"/>
<path d="M320.29 124.12 A55.10 55.10 0 0 0 322.86 132.01 L327.72 130.01 A49.85 49.85 0 0 1 325.38 122.87 Z" fill="#f59376" stroke="#f59376" stroke-width="0.3"/>
<path d="M315.19 125.38 A60.35 60.35 0 0 0 318.01 134.02 L322.86 132.01 A55.10 55.10 0 0 1 320.29 124.12 Z" fill="#fee1d4" stroke="#fee1d4" stroke-width="0.3"/>
<path d="M310.09 126.63 A65.60 65.60 0 0 0 313.16 136.02 L318.01 134.02 A60.35 60.35 0 0 1 315.19 125.38 Z" fill="#fcc2ac" stroke="#fcc2ac" stroke-width="0.3"/>
<path d="M304.99 127.88 A70.85 70.85 0 0 0 308.31 138.02 L313.16 136.02 A65.60 65.60 0 0 1 310.09 126.63 Z" fill="#faad93" stroke="#faad93" stroke-width="0.3"/>
<path d="M299.89 129.13 A76.10 76.10 0 0 0 303.45 140.02 L308.31 138.02 A70.85 70.85 0 0 1 304.99 127.88 Z" fill="#bc251b" stroke="#bc251b" stroke-width="0.3"/>
<path d="M294.79 130.38 A81.35 81.35 0 0 0 298.60 142.03 L303.45 140.02 A76.10 76.10 0 0 1 299.89 129.13 Z" fill="#fcc2ac" stroke="#fcc2ac" stroke-width="0.3"/>
<path d="M289.69 131.63 A86.60 86.60 0 0 0 293.75 144.03 L298.60 142.03 A81.35 81.35 0 0 1 294.79 130.38 Z" fill="#ac1510" stroke="#ac1510" stroke-width="0.3"/>
<path d="M327.72 130.01 A49.85 49.85 0 0 0 331.10 136.72 L335.59 134.01 A44.60 44.60 0 0 1 332.57 128.01 Z" fill="#e25841" stroke="#e25841" stroke-width="0.3"/>
<path d="M322.86 132.01 A55.10 55.10 0 0 0 326.60 139.43 L331.10 136.72 A49.85 49.85 0 0 1 327.72 130.01 Z" fill="#ed7b60" stroke="#ed7b60" stroke-width="0.3"/>
<path d="M318.01 134.02 A60.35 60.35 0 0 0 322.10 142.14 L326.60 139.43 A55.10 55.10 0 0 1 322.86 132.01 Z" fill="#fee1d4" stroke="#fee1d4" stroke-width="0.3"/>
<path d="M313.16 136.02 A65.60 65.60 0 0 0 317.61 144.85 L322.10 142.14 A60.35 60.35 0 0 1 318.01 134.02 Z" fill="#fcc2ac" stroke="#fcc2ac" stroke-width="0.3"/>
<path d="M308.31 138.02 A70.85 70.85 0 0 0 313.11 147.55 L317.61 144.85 A65.60 65.60 0 0 1 313.16 136.02 Z" fill="#faad93" stroke="#faad93" stroke-width="0.3"/>
<path d="M303.45 140.02 A76.10 76.10 0 0 0 308.61 150.26 L313.11 147.55 A70.85 70.85 0 0 1 308.31 138.02 Z" fill="#bc251b" stroke="#bc251b" stroke-width="0.3"/>
<path d="M298.60 142.03 A81.35 81.35 0 0 0 304.11 152.97 L308.61 150.26 A76.10 76.10 0 0 1 303.45 140.02 Z" fill="#fcc2ac" stroke="#fcc2ac" stroke-width="0.3"/>
<path d="M293.75 144.03 A86.60 86.60 0 0 0 299.62 155.68 L304.11 152.97 A81.35 81.35 0 0 1 298.60 142.03 Z" fill="#ac1510" stroke="#ac1510" stroke-width="0.3"/>
<path d="M331.10 136.72 A49.85 49.85 0 0 0 335.45 142.84 L339.48 139.49 A44.60 44.60 0 0 1 335.59 134.01 Z" fill="#fee1d4" stroke="#fee1d4" stroke-width="0.3"/>
<path d="M326.60 139.43 A55.10 55.10 0 0 0 331.41 146.20 L335.45 142.84 A49.85 49.85 0 0 1 331.10 136.72 Z" fill="#fee1d4" stroke="#fee1d4" stroke-width="0.3"/>
<path d="M322.10 142.14 A60.35 60.35 0 0 0 327.37 149.55 L331.41 146.20 A55.10 55.10 0 0 1 326.60 139.43 Z" fill="#feded0" stroke="#feded0" stroke-width="0.3"/>
<path d="M317.61 144.85 A65.60 65.60 0 0 0 323.33 152.90 L327.37 149.55 A60.35 60.35 0 0 1 322.10 142.14 Z" fill="#fcc2ac" stroke="#fcc2ac" stroke-width="0.3"/>
<path d="M313.11 147.55 A70.85 70.85 0 0 0 319.29 156.26 L323.33 152.90 A65.60 65.60 0 0 1 317.61 144.85 Z" fill="#cd3727" stroke="#cd3727" stroke-width="0.3"/>
<path d="M308.61 150.26 A76.10 76.10 0 0 0 315.25 159.61 L319.29 156.26 A70.85 70.85 0 0 1 313.11 147.55 Z" fill="#d13c2a" stroke="#d13c2a" stroke-width="0.3"/>
<path d="M304.11 152.97 A81.35 81.35 0 0 0 311.21 162.96 L315.25 159.61 A76.10 76.10 0 0 1 308.61 150.26 Z" fill="#faad93" stroke="#faad93" stroke-width="0.3"/>
<path d="M299.62 155.68 A86.60 86.60 0 0 0 307.17 166.32 L311.21 162.96 A81.35 81.35 0 0 1 304.11 152.97 Z" fill="#ac1510" stroke="#ac1510" stroke-width="0.3"/>
<path d="M335.45 142.84 A49.85 49.85 0 0 0 340.66 148.24 L344.15 144.32 A44.60 44.60 0 0 1 339.48 139.49 Z" fill="#ffefe7" stroke="#ffefe7" stroke-width="0.3"/>
<path d="M331.41 146.20 A55.10 55.10 0 0 0 337.17 152.17 L340.66 148.24 A49.85 49.85 0 0 1 335.45 142.84 Z" fill="#af1711" stroke="#af1711" stroke-width="0.3"/>
<path d="M327.37 149.55 A60.35 60.35 0 0 0 333.68 156.09 L337.17 152.17 A55.10 55.10 0 0 1 331.41 146.20 Z" fill="#fee1d4" stroke="#fee1d4" stroke-width="0.3"/>
<path d="M323.33 152.90 A65.60 65.60 0 0 0 330.20 160.01 L333.68 156.09 A60.35 60.35 0 0 1 327.37 149.55 Z" fill="#fcc2ac" stroke="#fcc2ac" stroke-width="0.3"/>
<path d="M319.29 156.26 A70.85 70.85 0 0 0 326.71 163.93 L330.20 160.01 A65.60 65.60 0 0 1 323.33 152.90 Z" fill="#ed7b60" stroke="#ed7b60" stroke-width="0.3"/>
<path d="M315.25 159.61 A76.10 76.10 0 0 0 323.22 167.85 L326.71 163.93 A70.85 70.85 0 0 1 319.29 156.26 Z" fill="#fcc6b1" stroke="#fcc6b1" stroke-width="0.3"/>
<path d="M311.21 162.96 A81.35 81.35 0 0 0 319.73 171.78 L323.22 167.85 A76.10 76.10 0 0 1 315.25 159.61 Z" fill="#fcc2ac" stroke="#fcc2ac" stroke-width="0.3"/>
<path d="M307.17 166.32 A86.60 86.60 0 0 0 316.24 175.70 L319.73 171.78 A81.35 81.35 0 0 1 311.21 162.96 Z" fill="#ac1510" stroke="#ac1510" stroke-width="0.3"/>
<path d="M340.66 148.24 A49.85 49.85 0 0 0 346.64 152.80 L349.50 148.40 A44.60 44.60 0 0 1 344.15 144.32 Z" fill="#ffefe7" stroke="#ffefe7" stroke-width="0.3"/>
<path d="M337.17 152.17 A55.10 55.10 0 0 0 343.77 157.20 L346.64 152.80 A49.85 49.85 0 0 1 340.66 148.24 Z" fill="#af1711" stroke="#af1711" stroke-width="0.3"/>
<path d="M333.68 156.09 A60.35 60.35 0 0 0 340.91 161.60 L343.77 157.20 A55.10 55.10 0 0 1 337.17 152.17 Z" fill="#fee1d4" stroke="#fee1d4" stroke-width="0.3"/>
<path d="M330.20 160.01 A65.60 65.60 0 0 0 338.05 166.00 L340.91 161.60 A60.35 60.35 0 0 1 333.68 156.09 Z" fill="#fcc2ac" stroke="#fcc2ac" stroke-width="0.3"/>
<path d="M326.71 163.93 A70.85 70.85 0 0 0 335.19 170.41 L338.05 166.00 A65.60 65.60 0 0 1 330.20 160.01 Z" fill="#faad93" stroke="#faad93" stroke-width="0.3"/>
<path d="M323.22 167.85 A76.10 76.10 0 0 0 332.33 174.81 L335.19 170.41 A70.85 70.85 0 0 1 326.71 163.93 Z" fill="#dc4732" stroke="#dc4732" stroke-width="0.3"/>
<path d="M319.73 171.78 A81.35 81.35 0 0 0 329.47 179.21 L332.33 174.81 A76.10 76.10 0 0 1 323.22 167.85 Z" fill="#fcc2ac" stroke="#fcc2ac" stroke-width="0.3"/>
<path d="M316.24 175.70 A86.60 86.60 0 0 0 326.61 183.61 L329.47 179.21 A81.35 81.35 0 0 1 319.73 171.78 Z" fill="#ac1510" stroke="#ac1510" stroke-width="0.3"/>
<path d="M346.64 152.80 A49.85 49.85 0 0 0 353.22 156.40 L355.39 151.62 A44.60 44.60 0 0 1 349.50 148.40 Z" fill="#ffefe7" stroke="#ffefe7" stroke-width="0.3"/>
<path d="M343.77 157.20 A55.10 55.10 0 0 0 351.06 161.19 L353.22 156.40 A49.85 49.85 0 0 1 346.64 152.80 Z" fill="#af1711" stroke="#af1711" stroke-width="0.3"/>
<path d="M340.91 161.60 A60.35 60.35 0 0 0 348.89 165.97 L351.06 161.19 A55.10 55.10 0 0 1 343.77 157.20 Z" fill="#fee1d4" stroke="#fee1d4" stroke-width="0.3"/>
<path d="M338.05 166.00 A65.60 65.60 0 0 0 346.72 170.75 L348.89 165.97 A60.35 60.35 0 0 1 340.91 161.60 Z" fill="#fcc2ac" stroke="#fcc2ac" stroke-width="0.3"/>
<path d="M335.19 170.41 A70.85 70.85 0 0 0 344.55 175.53 L346.72 170.75 A65.60 65.60 0 0 1 338.05 166.00 Z" fill="#dc4732" stroke="#dc4732" stroke-width="0.3"/>
<path d="M332.33 174.81 A76.10 76.10 0 0 0 342.39 180.31 L344.55 175.53 A70.85 70.85 0 0 1 335.19 170.41 Z" fill="#e25841" stroke="#e25841" stroke-width="0.3"/>
<path d="M329.47 179.21 A81.35 81.35 0 0 0 340.22 185.10 L342.39 180.31 A76.10 76.10 0 0 1 332.33 174.81 Z" fill="#fcc2ac" stroke="#fcc2ac" stroke-width="0.3"/>
<path d="M326.61 183.61 A86.60 86.60 0 0 0 338.05 189.88 L340.22 185.10 A81.35 81.35 0 0 1 329.47 179.21 Z" fill="#ac1510" stroke="#ac1510" stroke-width="0.3"/>
<path d="M353.22 156.40 A49.85 49.85 0 0 0 360.28 158.98 L361.70 153.93 A44.60 44.60 0 0 1 355.39 151.62 Z" fill="#ffefe7" stroke="#ffefe7" stroke-width="0.3"/>
<path d="M351.06 161.19 A55.10 55.10 0 0 0 358.85 164.03 L360.28 158.98 A49.85 49.85 0 0 1 353.22 156.40 Z" fill="#fcc2ac" stroke="#fcc2ac" stroke-width="0.3"/>
<path d="M348.89 165.97 A60.35 60.35 0 0 0 357.43 169.09 L358.85 164.03 A55.10 55.10 0 0 1 351.06 161.19 Z" fill="#f59376" stroke="#f59376" stroke-width="0.3"/>
<path d="M346.72 170.75 A65.60 65.60 0 0 0 356.00 174.14 L357.43 169.09 A60.35 60.35 0 0 1 348.89 165.97 Z" fill="#fbc0a9" stroke="#fbc0a9" stroke-width="0.3"/>
<path d="M344.55 175.53 A70.85 70.85 0 0 0 354.58 179.19 L356.00 174.14 A65.60 65.60 0 0 1 346.72 170.75 Z" fill="#fbbaa2" stroke="#fbbaa2" stroke-width="0.3"/>
<path d="M342.39 180.31 A76.10 76.10 0 0 0 353.16 184.25 L354.58 179.19 A70.85 70.85 0 0 1 344.55 175.53 Z" fill="#fbbaa2" stroke="#fbbaa2" stroke-width="0.3"/>
<path d="M340.22 185.10 A81.35 81.35 0 0 0 351.73 189.30 L353.16 184.25 A76.10 76.10 0 0 1 342.39 180.31 Z" fill="#fab59d" stroke="#fab59d" stroke-width="0.3"/>
<path d="M338.05 189.88 A86.60 86.60 0 0 0 350.31 194.35 L351.73 189.30 A81.35 81.35 0 0 1 340.22 185.10 Z" fill="#ac1510" stroke="#ac1510" stroke-width="0.3"/>
<path d="M360.28 158.98 A49.85 49.85 0 0 0 367.64 160.47 L368.29 155.26 A44.60 44.60 0 0 1 361.70 153.93 Z" fill="#ffefe7" stroke="#ffefe7" stroke-width="0.3"/>
<path d="M358.85 164.03 A55.10 55.10 0 0 0 366.99 165.68 L367.64 160.47 A49.85 49.85 0 0 1 360.28 158.98 Z" fill="#e25841" stroke="#e25841" stroke-width="0.3"/>
<path d="M357.43 169.09 A60.35 60.35 0 0 0 366.34 170.89 L366.99 165.68 A55.10 55.10 0 0 1 358.85 164.03 Z" fill="#f9a78b" stroke="#f9a78b" stroke-width="0.3"/>
<path d="M356.00 174.14 A65.60 65.60 0 0 0 365.69 176.10 L366.34 170.89 A60.35 60.35 0 0 1 357.43 169.09 Z" fill="#fbc0a9" stroke="#fbc0a9" stroke-width="0.3"/>
<path d="M354.58 179.19 A70.85 70.85 0 0 0 365.04 181.31 L365.69 176.10 A65.60 65.60 0 0 1 356.00 174.14 Z" fill="#fbbaa2" stroke="#fbbaa2" stroke-width="0.3"/>
<path d="M353.16 184.25 A76.10 76.10 0 0 0 364.39 186.52 L365.04 181.31 A70.85 70.85 0 0 1 354.58 179.19 Z" fill="#fbbaa2" stroke="#fbbaa2" stroke-width="0.3"/>
<path d="M351.73 189.30 A81.35 81.35 0 0 0 363.75 191.73 L364.39 186.52 A76.10 76.10 0 0 1 353.16 184.25 Z" fill="#fcc2ac" stroke="#fcc2ac" stroke-width="0.3"/>
<path d="M350.31 194.35 A86.60 86.60 0 0 0 363.10 196.94 L363.75 191.73 A81.35 81.35 0 0 1 351.73 189.30 Z" fill="#ac1510" stroke="#ac1510" stroke-width="0.3"/>
<path d="M367.64 160.47 A49.85 49.85 0 0 0 375.14 160.83 L375.00 155.58 A44.60 44.60 0 0 1 368.29 155.26 Z" fill="#dc4732" stroke="#dc4732" stroke-width="0.3"/>
<path d="M366.99 165.68 A55.10 55.10 0 0 0 375.28 166.08 L375.14 160.83 A49.85 49.85 0 0 1 367.64 160.47 Z" fill="#fcc2ac" stroke="#fcc2ac" stroke-width="0.3"/>
<path d="M366.34 170.89 A60.35 60.35 0 0 0 375.42 171.33 L375.28 166.08 A55.10 55.10 0 0 1 366.99 165.68 Z" fill="#fedaca" stroke="#fedaca" stroke-width="0.3"/>
<path d="M365.69 176.10 A65.60 65.60 0 0 0 375.56 176.58 L375.42 171.33 A60.35 60.35 0 0 1 366.34 170.89 Z" fill="#fbc0a9" stroke="#fbc0a9" stroke-width="0.3"/>
<path d="M365.04 181.31 A70.85 70.85 0 0 0 375.70 181.82 L375.56 176.58 A65.60 65.60 0 0 1 365.69 176.10 Z" fill="#fbbaa2" stroke="#fbbaa2" stroke-width="0.3"/>
<path d="M364.39 186.52 A76.10 76.10 0 0 0 375.85 187.07 L375.70 181.82 A70.85 70.85 0 0 1 365.04 181.31 Z" fill="#fbbea7" stroke="#fbbea7" stroke-width="0.3"/>
<path d="M363.75 191.73 A81.35 81.35 0 0 0 375.99 192.32 L375.85 187.07 A76.10 76.10 0 0 1 364.39 186.52 Z" fill="#fdd4c3" stroke="#fdd4c3" stroke-width="0.3"/>
<path d="M363.10 196.94 A86.60 86.60 0 0 0 376.13 197.57 L375.99 192.32 A81.35 81.35 0 0 1 363.75 191.73 Z" fill="#ac1510" stroke="#ac1510" stroke-width="0.3"/>
<path d="M375.14 160.83 A49.85 49.85 0 0 0 382.61 160.07 L381.68 154.90 A44.60 44.60 0 0 1 375.00 155.58 Z" fill="#fdd7c7" stroke="#fdd7c7" stroke-width="0.3"/>
<path d="M375.28 166.08 A55.10 55.10 0 0 0 383.54 165.23 L382.61 160.07 A49.85 49.85 0 0 1 375.14 160.83 Z" fill="#dc4732" stroke="#dc4732" stroke-width="0.3"/>
<path d="M375.42 171.33 A60.35 60.35 0 0 0 384.47 170.40 L383.54 165.23 A55.10 55.10 0 0 1 375.28 166.08 Z" fill="#fee1d4" stroke="#fee1d4" stroke-width="0.3"/>
<path d="M375.56 176.58 A65.60 65.60 0 0 0 385.39 175.57 L384.47 170.40 A60.35 60.35 0 0 1 375.42 171.33 Z" fill="#fcc2ac" stroke="#fcc2ac" stroke-width="0.3"/>
<path d="M375.70 181.82 A70.85 70.85 0 0 0 386.32 180.73 L385.39 175.57 A65.60 65.60 0 0 1 375.56 176.58 Z" fill="#fcc6b1" stroke="#fcc6b1" stroke-width="0.3"/>
<path d="M375.85 187.07 A76.10 76.10 0 0 0 387.25 185.90 L386.32 180.73 A70.85 70.85 0 0 1 375.70 181.82 Z" fill="#d13c2a" stroke="#d13c2a" stroke-width="0.3"/>
<path d="M375.99 192.32 A81.35 81.35 0 0 0 388.18 191.07 L387.25 185.90 A76.10 76.10 0 0 1 375.85 187.07 Z" fill="#c63022" stroke="#c63022" stroke-width="0.3"/>
<path d="M376.13 197.57 A86.60 86.60 0 0 0 389.11 196.24 L388.18 191.07 A81.35 81.35 0 0 1 375.99 192.32 Z" fill="#ac1510" stroke="#ac1510" stroke-width="0.3"/>
<path d="M382.61 160.07 A49.85 49.85 0 0 0 389.88 158.18 L388.19 153.22 A44.60 44.60 0 0 1 381.68 154.90 Z" fill="#fee1d4" stroke="#fee1d4" stroke-width="0.3"/>
<path d="M383.54 165.23 A55.10 55.10 0 0 0 391.58 163.15 L389.88 158.18 A49.85 49.85 0 0 1 382.61 160.07 Z" fill="#d13c2a" stroke="#d13c2a" stroke-width="0.3"/>
<path d="M384.47 170.40 A60.35 60.35 0 0 0 393.27 168.12 L391.58 163.15 A55.10 55.10 0 0 1 383.54 165.23 Z" fill="#fee1d4" stroke="#fee1d4" stroke-width="0.3"/>
<path d="M385.39 175.57 A65.60 65.60 0 0 0 394.96 173.09 L393.27 168.12 A60.35 60.35 0 0 1 384.47 170.40 Z" fill="#fcc2ac" stroke="#fcc2ac" stroke-width="0.3"/>
<path d="M386.32 180.73 A70.85 70.85 0 0 0 396.66 178.06 L394.96 173.09 A65.60 65.60 0 0 1 385.39 175.57 Z" fill="#fcc2ac" stroke="#fcc2ac" stroke-width="0.3"/>
<path d="M387.25 185.90 A76.10 76.10 0 0 0 398.35 183.03 L396.66 178.06 A70.85 70.85 0 0 1 386.32 180.73 Z" fill="#fcc6b1" stroke="#fcc6b1" stroke-width="0.3"/>
<path d="M388.18 191.07 A81.35 81.35 0 0 0 400.04 188.00 L398.35 183.03 A76.10 76.10 0 0 1 387.25 185.90 Z" fill="#fcc2ac" stroke="#fcc2ac" stroke-width="0.3"/>
<path d="M389.11 196.24 A86.60 86.60 0 0 0 401.74 192.97 L400.04 188.00 A81.35 81.35 0 0 1 388.18 191.07 Z" fill="#ac1510" stroke="#ac1510" stroke-width="0.3"/>
<path d="M389.88 158.18 A49.85 49.85 0 0 0 396.79 155.23 L394.37 150.58 A44.60 44.60 0 0 1 388.19 153.22 Z" fill="#fee1d4" stroke="#fee1d4" stroke-width="0.3"/>
<path d="M391.58 163.15 A55.10 55.10 0 0 0 399.21 159.89 L396.79 155.23 A49.85 49.85 0 0 1 389.88 158.18 Z" fill="#d13c2a" stroke="#d13c2a" stroke-width="0.3"/>
<path d="M393.27 168.12 A60.35 60.35 0 0 0 401.63 164.55 L399.21 159.89 A55.10 55.10 0 0 1 391.58 163.15 Z" fill="#fee1d4" stroke="#fee1d4" stroke-width="0.3"/>
<path d="M394.96 173.09 A65.60 65.60 0 0 0 404.05 169.21 L401.63 164.55 A60.35 60.35 0 0 1 393.27 168.12 Z" fill="#fcc2ac" stroke="#fcc2ac" stroke-width="0.3"/>
<path d="M396.66 178.06 A70.85 70.85 0 0 0 406.47 173.87 L404.05 169.21 A65.60 65.60 0 0 1 394.96 173.09 Z" fill="#fcc2ac" stroke="#fcc2ac" stroke-width="0.3"/>
<path d="M398.35 183.03 A76.10 76.10 0 0 0 408.89 178.53 L406.47 173.87 A70.85 70.85 0 0 1 396.66 178.06 Z" fill="#fcc2ac" stroke="#fcc2ac" stroke-width="0.3"/>
<path d="M400.04 188.00 A81.35 81.35 0 0 0 411.31 183.18 L408.89 178.53 A76.10 76.10 0 0 1 398.35 183.03 Z" fill="#dc4732" stroke="#dc4732" stroke-width="0.3"/>
<path d="M401.74 192.97 A86.60 86.60 0 0 0 413.73 187.84 L411.31 183.18 A81.35 81.35 0 0 1 400.04 188.00 Z" fill="#ac1510" stroke="#ac1510" stroke-width="0.3"/>
<path d="M396.79 155.23 A49.85 49.85 0 0 0 403.17 151.28 L400.08 147.04 A44.60 44.60 0 0 1 394.37 150.58 Z" fill="#fee1d4" stroke="#fee1d4" stroke-width="0.3"/>
<path d="M399.21 159.89 A55.10 55.10 0 0 0 406.26 155.52 L403.17 151.28 A49.85 49.85 0 0 1 396.79 155.23 Z" fill="#fcc2ac" stroke="#fcc2ac" stroke-width="0.3"/>
<path d="M401.63 164.55 A60.35 60.35 0 0 0 409.36 159.76 L406.26 155.52 A55.10 55.10 0 0 1 399.21 159.89 Z" fill="#fee1d4" stroke="#fee1d4" stroke-width="0.3"/>
<path d="M404.05 169.21 A65.60 65.60 0 0 0 412.45 164.00 L409.36 159.76 A60.35 60.35 0 0 1 401.63 164.55 Z" fill="#fcc2ac" stroke="#fcc2ac" stroke-width="0.3"/>
<path d="M406.47 173.87 A70.85 70.85 0 0 0 415.54 168.25 L412.45 164.00 A65.60 65.60 0 0 1 404.05 169.21 Z" fill="#fcc2ac" stroke="#fcc2ac" stroke-width="0.3"/>
<path d="M408.89 178.53 A76.10 76.10 0 0 0 418.64 172.49 L415.54 168.25 A70.85 70.85 0 0 1 406.47 173.87 Z" fill="#fcc2ac" stroke="#fcc2ac" stroke-width="0.3"/>
<path d="M411.31 183.18 A81.35 81.35 0 0 0 421.73 176.73 L418.64 172.49 A76.10 76.10 0 0 1 408.89 178.53 Z" fill="#fcc2ac" stroke="#fcc2ac" stroke-width="0.3"/>
<path d="M413.73 187.84 A86.60 86.60 0 0 0 424.82 180.97 L421.73 176.73 A81.35 81.35 0 0 1 411.31 183.18 Z" fill="#ac1510" stroke="#ac1510" stroke-width="0.3"/>
<path d="M403.17 151.28 A49.85 49.85 0 0 0 408.89 146.41 L405.19 142.68 A44.60 44.60 0 0 1 400.08 147.04 Z" fill="#fee1d4" stroke="#fee1d4" stroke-width="0.3"/>
<path d="M406.26 155.52 A55.10 55.10 0 0 0 412.58 150.14 L408.89 146.41 A49.85 49.85 0 0 1 403.17 151.28 Z" fill="#fcc2ac" stroke="#fcc2ac" stroke-width="0.3"/>
<path d="M409.36 159.76 A60.35 60.35 0 0 0 416.28 153.87 L412.58 150.14 A55.10 55.10 0 0 1 406.26 155.52 Z" fill="#fee1d4" stroke="#fee1d4" stroke-width="0.3"/>
<path d="M412.45 164.00 A65.60 65.60 0 0 0 419.98 157.60 L416.28 153.87 A60.35 60.35 0 0 1 409.36 159.76 Z" fill="#fcc2ac" stroke="#fcc2ac" stroke-width="0.3"/>
<path d="M415.54 168.25 A70.85 70.85 0 0 0 423.67 161.33 L419.98 157.60 A65.60 65.60 0 0 1 412.45 164.00 Z" fill="#fcc2ac" stroke="#fcc2ac" stroke-width="0.3"/>
<path d="M418.64 172.49 A76.10 76.10 0 0 0 427.37 165.05 L423.67 161.33 A70.85 70.85 0 0 1 415.54 168.25 Z" fill="#fcc2ac" stroke="#fcc2ac" stroke-width="0.3"/>
<path d="M421.73 176.73 A81.35 81.35 0 0 0 431.06 168.78 L427.37 165.05 A76.10 76.10 0 0 1 418.64 172.49 Z" fill="#c63022" stroke="#c63022" stroke-width="0.3"/>
<path d="M424.82 180.97 A86.60 86.60 0 0 0 434.76 172.51 L431.06 168.78 A81.35 81.35 0 0 1 421.73 176.73 Z" fill="#ac1510" stroke="#ac1510" stroke-width="0.3"/>
<path d="M414.32 108.38 A40.60 40.60 0 0 0 362.75 71.93 L371.24 101.96 A9.40 9.40 0 0 1 383.18 110.39 Z" fill="#dccbd6"/>
<path d="M343.87 83.57 A40.60 40.60 0 0 0 333.31 113.97 L363.83 111.73 A10.00 10.00 0 0 1 366.43 104.24 Z" fill="#d5ddf8"/>
<path d="M333.33 114.26 A40.60 40.60 0 0 0 402.38 139.84 L381.19 118.46 A10.50 10.50 0 0 1 363.33 111.84 Z" fill="#cdeac4"/>
<path d="M362.61 71.97 A40.60 40.60 0 0 0 343.87 83.57 L366.72 104.51 A9.60 9.60 0 0 1 371.15 101.77 Z" fill="#fdfcf0"/>
<path d="M375.93 109.52 A2.60 2.60 0 0 0 371.63 112.44 M375.93 109.52 L389.81 99.87 M391.58 103.00 A19.50 19.50 0 0 0 381.79 93.21 M391.58 103.00 L399.11 99.62 M400.67 104.05 A27.75 27.75 0 0 0 396.82 95.51 M400.67 104.05 L404.66 103.02 M405.36 106.55 A31.88 31.88 0 0 0 403.56 99.59 M405.36 106.55 L413.41 105.42 M403.56 99.59 L407.41 98.11 M408.29 100.68 A36.00 36.00 0 0 0 406.35 95.62 M408.29 100.68 L412.12 99.53 M406.35 95.62 L409.96 93.91 M396.82 95.51 L406.98 88.67 M381.79 93.21 L383.48 89.45 M389.28 93.15 A23.62 23.62 0 0 0 376.87 87.57 M389.28 93.15 L394.69 86.92 M397.27 89.43 A31.88 31.88 0 0 0 391.84 84.72 M397.27 89.43 L403.25 83.94 M391.84 84.72 L394.17 81.32 M396.35 82.94 A36.00 36.00 0 0 0 391.88 79.87 M396.35 82.94 L398.85 79.82 M391.88 79.87 L393.88 76.41 M376.87 87.57 L377.40 83.48 M382.00 84.49 A27.75 27.75 0 0 0 372.71 83.27 M382.00 84.49 L384.43 76.61 M386.99 77.50 A36.00 36.00 0 0 0 381.81 75.90 M386.99 77.50 L388.46 73.78 M381.81 75.90 L382.70 72.00 M372.71 83.27 L372.54 79.15 M376.15 79.21 A31.88 31.88 0 0 0 368.96 79.50 M376.15 79.21 L376.74 71.11 M368.96 79.50 L368.33 75.42 M371.03 75.11 A36.00 36.00 0 0 0 365.67 75.93 M371.03 75.11 L370.72 71.12 M365.67 75.93 L364.76 72.03 M371.81 109.32 L368.46 106.48 M370.49 104.83 A7.00 7.00 0 0 0 367.17 108.76 M370.49 104.83 L362.47 89.84 M364.93 88.70 A24.00 24.00 0 0 0 360.15 91.26 M364.93 88.70 L359.01 73.83 M360.15 91.26 L353.33 81.39 M355.62 79.93 A36.00 36.00 0 0 0 351.15 83.01 M355.62 79.93 L353.59 76.48 M351.15 83.01 L348.64 79.91 M367.17 108.76 L357.69 105.57 M359.32 102.10 A17.00 17.00 0 0 0 356.88 109.32 M359.32 102.10 L351.22 97.12 M352.93 94.66 A26.50 26.50 0 0 0 349.80 99.76 M352.93 94.66 L345.45 88.81 M347.21 86.73 A36.00 36.00 0 0 0 343.86 91.00 M347.21 86.73 L344.25 84.04 M343.86 91.00 L340.54 88.78 M349.80 99.76 L337.58 94.03 M356.88 109.32 L347.43 108.39 M347.89 105.43 A26.50 26.50 0 0 0 347.30 111.38 M347.89 105.43 L338.61 103.43 M339.28 100.80 A36.00 36.00 0 0 0 338.13 106.10 M339.28 100.80 L335.44 99.67 M338.13 106.10 L334.17 105.56 M347.30 111.38 L333.80 111.57 M371.63 112.44 L356.73 122.34 M355.67 120.57 A20.50 20.50 0 0 0 373.00 131.48 M355.67 120.57 L348.82 124.18 M346.64 118.76 A28.25 28.25 0 0 0 352.06 129.05 M346.64 118.76 L342.91 119.82 M342.11 116.28 A32.12 32.12 0 0 0 344.10 123.25 M342.11 116.28 L334.34 117.57 M344.10 123.25 L340.52 124.73 M339.58 122.18 A36.00 36.00 0 0 0 341.65 127.20 M339.58 122.18 L335.78 123.43 M341.65 127.20 L338.08 129.00 M352.06 129.05 L346.10 134.00 M344.45 131.84 A36.00 36.00 0 0 0 347.91 136.02 M344.45 131.84 L341.19 134.16 M347.91 136.02 L345.04 138.80 M373.00 131.48 L372.85 135.36 M365.01 133.73 A24.38 24.38 0 0 0 380.79 134.35 M365.01 133.73 L363.61 137.35 M358.41 134.69 A28.25 28.25 0 0 0 369.25 138.88 M358.41 134.69 L354.18 141.19 M351.96 139.62 A36.00 36.00 0 0 0 356.51 142.58 M351.96 139.62 L349.54 142.80 M356.51 142.58 L354.59 146.09 M369.25 138.88 L368.63 142.71 M365.09 141.92 A32.12 32.12 0 0 0 372.24 143.09 M365.09 141.92 L364.03 145.65 M361.45 144.82 A36.00 36.00 0 0 0 366.67 146.29 M361.45 144.82 L360.08 148.57 M366.67 146.29 L365.88 150.21 M372.24 143.09 L371.86 150.95 M380.79 134.35 L381.90 138.06 M376.68 139.10 A28.25 28.25 0 0 0 386.83 136.07 M376.68 139.10 L377.88 150.79 M386.83 136.07 L388.61 139.51 M384.16 141.41 A32.12 32.12 0 0 0 392.73 136.96 M384.16 141.41 L385.41 145.08 M382.81 145.85 A36.00 36.00 0 0 0 387.95 144.10 M382.81 145.85 L383.82 149.73 M387.95 144.10 L389.52 147.78 M392.73 136.96 L395.01 140.09 M392.76 141.60 A36.00 36.00 0 0 0 397.14 138.41 M392.76 141.60 L394.87 145.00 M397.14 138.41 L399.74 141.45" fill="none" stroke="#4a4a4a" stroke-width="0.36"/>
<path d="M413.41 105.42 L459.55 98.92" stroke="#555" stroke-width="0.3" opacity="0.75"/>
<path d="M459.55 98.92 L460.20 97.90" stroke="#555" stroke-width="0.3" opacity="0.9"/>
<path d="M412.12 99.53 L456.76 86.17" stroke="#555" stroke-width="0.3" opacity="0.75"/>
<path d="M456.76 86.17 L458.00 85.10" stroke="#555" stroke-width="0.3" opacity="0.9"/>
<path d="M409.96 93.91 L452.09 73.99" stroke="#555" stroke-width="0.3" opacity="0.75"/>
<path d="M452.09 73.99 L452.40 71.90" stroke="#555" stroke-width="0.3" opacity="0.9"/>
<path d="M406.98 88.67 L445.65 62.65" stroke="#555" stroke-width="0.3" opacity="0.75"/>
<path d="M445.65 62.65 L446.10 61.00" stroke="#555" stroke-width="0.3" opacity="0.9"/>
<path d="M403.25 83.94 L437.57 52.40" stroke="#555" stroke-width="0.3" opacity="0.75"/>
<path d="M437.57 52.40 L438.00 50.00" stroke="#555" stroke-width="0.3" opacity="0.9"/>
<path d="M398.85 79.82 L428.04 43.49" stroke="#555" stroke-width="0.3" opacity="0.75"/>
<path d="M428.04 43.49 L427.30 40.30" stroke="#555" stroke-width="0.3" opacity="0.9"/>
<path d="M393.88 76.41 L417.28 36.11" stroke="#555" stroke-width="0.3" opacity="0.75"/>
<path d="M417.28 36.11 L415.50 32.70" stroke="#555" stroke-width="0.3" opacity="0.9"/>
<path d="M388.46 73.78 L405.54 30.43" stroke="#555" stroke-width="0.3" opacity="0.75"/>
<path d="M405.54 30.43 L412.90 22.70" stroke="#555" stroke-width="0.3" opacity="0.9"/>
<path d="M382.70 72.00 L393.07 26.57" stroke="#555" stroke-width="0.3" opacity="0.75"/>
<path d="M393.07 26.57 L391.80 15.60" stroke="#555" stroke-width="0.3" opacity="0.9"/>
<path d="M376.74 71.11 L380.17 24.63" stroke="#555" stroke-width="0.3" opacity="0.75"/>
<path d="M380.17 24.63 L375.10 9.80" stroke="#555" stroke-width="0.3" opacity="0.9"/>
<path d="M370.72 71.12 L367.13 24.66" stroke="#555" stroke-width="0.3" opacity="0.75"/>
<path d="M367.13 24.66 L374.50 11.30" stroke="#555" stroke-width="0.3" opacity="0.9"/>
<path d="M364.76 72.03 L354.23 26.64" stroke="#555" stroke-width="0.3" opacity="0.75"/>
<path d="M354.23 26.64 L362.40 17.05" stroke="#555" stroke-width="0.3" opacity="0.9"/>
<path d="M359.01 73.83 L341.78 30.54" stroke="#555" stroke-width="0.3" opacity="0.75"/>
<path d="M341.78 30.54 L339.40 21.95" stroke="#555" stroke-width="0.3" opacity="0.9"/>
<path d="M353.59 76.48 L330.06 36.26" stroke="#555" stroke-width="0.3" opacity="0.75"/>
<path d="M330.06 36.26 L324.90 28.00" stroke="#555" stroke-width="0.3" opacity="0.9"/>
<path d="M348.64 79.91 L319.32 43.68" stroke="#555" stroke-width="0.3" opacity="0.75"/>
<path d="M319.32 43.68 L312.00 35.80" stroke="#555" stroke-width="0.3" opacity="0.9"/>
<path d="M344.25 84.04 L309.83 52.63" stroke="#555" stroke-width="0.3" opacity="0.75"/>
<path d="M309.83 52.63 L301.90 44.50" stroke="#555" stroke-width="0.3" opacity="0.9"/>
<path d="M340.54 88.78 L301.79 62.90" stroke="#555" stroke-width="0.3" opacity="0.75"/>
<path d="M301.79 62.90 L293.20 56.10" stroke="#555" stroke-width="0.3" opacity="0.9"/>
<path d="M337.58 94.03 L295.38 74.26" stroke="#555" stroke-width="0.3" opacity="0.75"/>
<path d="M295.38 74.26 L286.00 70.40" stroke="#555" stroke-width="0.3" opacity="0.9"/>
<path d="M335.44 99.67 L290.75 86.46" stroke="#555" stroke-width="0.3" opacity="0.75"/>
<path d="M290.75 86.46 L280.20 83.10" stroke="#555" stroke-width="0.3" opacity="0.9"/>
<path d="M334.17 105.56 L288.01 99.22" stroke="#555" stroke-width="0.3" opacity="0.75"/>
<path d="M288.01 99.22 L277.30 96.90" stroke="#555" stroke-width="0.3" opacity="0.9"/>
<path d="M333.80 111.57 L287.21 112.24" stroke="#555" stroke-width="0.3" opacity="0.75"/>
<path d="M287.21 112.24 L275.30 112.70" stroke="#555" stroke-width="0.3" opacity="0.9"/>
<path d="M334.34 117.57 L288.38 125.23" stroke="#555" stroke-width="0.3" opacity="0.75"/>
<path d="M288.38 125.23 L276.80 126.70" stroke="#555" stroke-width="0.3" opacity="0.9"/>
<path d="M335.78 123.43 L291.49 137.90" stroke="#555" stroke-width="0.3" opacity="0.75"/>
<path d="M291.49 137.90 L285.10 144.40" stroke="#555" stroke-width="0.3" opacity="0.9"/>
<path d="M338.08 129.00 L296.46 149.97" stroke="#555" stroke-width="0.3" opacity="0.75"/>
<path d="M296.46 149.97 L285.10 155.40" stroke="#555" stroke-width="0.3" opacity="0.9"/>
<path d="M341.19 134.16 L303.19 161.14" stroke="#555" stroke-width="0.3" opacity="0.75"/>
<path d="M303.19 161.14 L290.90 165.10" stroke="#555" stroke-width="0.3" opacity="0.9"/>
<path d="M345.04 138.80 L311.53 171.18" stroke="#555" stroke-width="0.3" opacity="0.75"/>
<path d="M311.53 171.18 L302.10 176.80" stroke="#555" stroke-width="0.3" opacity="0.9"/>
<path d="M349.54 142.80 L321.27 179.85" stroke="#555" stroke-width="0.3" opacity="0.75"/>
<path d="M321.27 179.85 L309.00 185.60" stroke="#555" stroke-width="0.3" opacity="0.9"/>
<path d="M354.59 146.09 L332.21 186.96" stroke="#555" stroke-width="0.3" opacity="0.75"/>
<path d="M332.21 186.96 L317.80 193.60" stroke="#555" stroke-width="0.3" opacity="0.9"/>
<path d="M360.08 148.57 L344.10 192.35" stroke="#555" stroke-width="0.3" opacity="0.75"/>
<path d="M344.10 192.35 L327.00 200.20" stroke="#555" stroke-width="0.3" opacity="0.9"/>
<path d="M365.88 150.21 L356.65 195.89" stroke="#555" stroke-width="0.3" opacity="0.75"/>
<path d="M356.65 195.89 L347.10 206.10" stroke="#555" stroke-width="0.3" opacity="0.9"/>
<path d="M371.86 150.95 L369.60 197.50" stroke="#555" stroke-width="0.3" opacity="0.75"/>
<path d="M369.60 197.50 L374.00 211.80" stroke="#555" stroke-width="0.3" opacity="0.9"/>
<path d="M377.88 150.79 L382.64 197.15" stroke="#555" stroke-width="0.3" opacity="0.75"/>
<path d="M382.64 197.15 L377.50 209.30" stroke="#555" stroke-width="0.3" opacity="0.9"/>
<path d="M383.82 149.73 L395.48 194.84" stroke="#555" stroke-width="0.3" opacity="0.75"/>
<path d="M395.48 194.84 L394.20 202.00" stroke="#555" stroke-width="0.3" opacity="0.9"/>
<path d="M389.52 147.78 L407.83 190.63" stroke="#555" stroke-width="0.3" opacity="0.75"/>
<path d="M407.83 190.63 L406.80 194.80" stroke="#555" stroke-width="0.3" opacity="0.9"/>
<path d="M394.87 145.00 L419.41 184.62" stroke="#555" stroke-width="0.3" opacity="0.75"/>
<path d="M419.41 184.62 L422.20 187.60" stroke="#555" stroke-width="0.3" opacity="0.9"/>
<path d="M399.74 141.45 L429.95 176.93" stroke="#555" stroke-width="0.3" opacity="0.75"/>
<path d="M429.95 176.93 L430.80 179.80" stroke="#555" stroke-width="0.3" opacity="0.9"/>
<circle cx="415.19" cy="105.17" r="0.60" fill="#ffffdd"/>
<circle cx="413.85" cy="99.02" r="0.55" fill="#8899ff"/>
<circle cx="411.59" cy="93.14" r="0.55" fill="#5a5a4a"/>
<circle cx="408.48" cy="87.66" r="0.55" fill="#ff6622"/>
<circle cx="404.58" cy="82.72" r="0.55" fill="#dce9fb"/>
<circle cx="399.98" cy="78.41" r="2.00" fill="#ffff66"/>
<circle cx="394.79" cy="74.85" r="0.55" fill="#aa6688"/>
<circle cx="389.12" cy="72.11" r="0.55" fill="#11dd99"/>
<circle cx="383.10" cy="70.25" r="1.50" fill="#a04a1a"/>
<circle cx="376.88" cy="69.31" r="1.40" fill="#ff55ff"/>
<circle cx="370.58" cy="69.32" r="1.00" fill="#66ddff"/>
<circle cx="364.35" cy="70.28" r="0.55" fill="#3d2a5c"/>
<circle cx="358.34" cy="72.16" r="1.20" fill="#2222cc"/>
<circle cx="352.69" cy="74.92" r="1.20" fill="#111111"/>
<circle cx="347.51" cy="78.51" r="1.80" fill="#1b5a48"/>
<circle cx="342.92" cy="82.82" r="0.55" fill="#0a4a0a"/>
<circle cx="339.04" cy="87.78" r="0.55" fill="#8a3a3a"/>
<circle cx="335.95" cy="93.27" r="0.55" fill="#111122"/>
<circle cx="333.71" cy="99.16" r="0.55" fill="#88cc66"/>
<circle cx="332.39" cy="105.31" r="0.55" fill="#ff2211"/>
<circle cx="332.00" cy="111.60" r="0.55" fill="#5f8f80"/>
<circle cx="332.57" cy="117.87" r="0.55" fill="#ee5588"/>
<circle cx="334.07" cy="123.99" r="0.55" fill="#cc9144"/>
<circle cx="336.47" cy="129.81" r="0.55" fill="#ff6666"/>
<circle cx="339.72" cy="135.20" r="0.55" fill="#ffd9e6"/>
<circle cx="343.74" cy="140.05" r="0.55" fill="#ee1155"/>
<circle cx="348.45" cy="144.23" r="1.10" fill="#119933"/>
<circle cx="353.73" cy="147.66" r="0.55" fill="#7a1010"/>
<circle cx="359.46" cy="150.26" r="0.55" fill="#ffa79a"/>
<circle cx="365.52" cy="151.97" r="0.55" fill="#ff99cc"/>
<circle cx="371.77" cy="152.75" r="0.55" fill="#ff99cc"/>
<circle cx="378.07" cy="152.58" r="0.55" fill="#ff11ee"/>
<circle cx="384.27" cy="151.47" r="0.90" fill="#1166ee"/>
<circle cx="390.23" cy="149.44" r="0.55" fill="#88ffaa"/>
<circle cx="395.81" cy="146.53" r="1.10" fill="#22dd22"/>
<circle cx="400.90" cy="142.82" r="0.55" fill="#6b7a10"/>
<text x="461.40" y="99.60" font-size="5.00" text-anchor="start" fill="#222" >TCD8<tspan dy="-1.80" font-size="3.60">+</tspan><tspan dy="1.80">Naive</tspan></text>
<text x="459.20" y="86.80" font-size="5.00" text-anchor="start" fill="#222" >TCD8<tspan dy="-1.80" font-size="3.60">+</tspan><tspan dy="1.80">CM CD127</tspan><tspan dy="-1.80" font-size="3.60">+</tspan><tspan dy="1.80">PD1</tspan><tspan dy="-1.80" font-size="3.60">−</tspan></text>
<text x="453.60" y="73.60" font-size="5.00" text-anchor="start" fill="#222" >TCD8<tspan dy="-1.80" font-size="3.60">+</tspan><tspan dy="1.80">CM CD127</tspan><tspan dy="-1.80" font-size="3.60">low/−</tspan><tspan dy="1.80">PD1</tspan><tspan dy="-1.80" font-size="3.60">−</tspan></text>
<text x="447.30" y="62.70" font-size="5.00" text-anchor="start" fill="#222" >TCD8<tspan dy="-1.80" font-size="3.60">+</tspan><tspan dy="1.80">CM CD127</tspan><tspan dy="-1.80" font-size="3.60">low/−</tspan><tspan dy="1.80">PD1</tspan><tspan dy="-1.80" font-size="3.60">+</tspan></text>
<text x="439.20" y="51.70" font-size="5.00" text-anchor="start" fill="#222" >Double positive</text>
<text x="428.50" y="42.00" font-size="5.00" text-anchor="start" fill="#222" >TCD8<tspan dy="-1.80" font-size="3.60">+</tspan><tspan dy="1.80">TEMRA CD127</tspan><tspan dy="-1.80" font-size="3.60">low/−</tspan><tspan dy="1.80">PD1</tspan><tspan dy="-1.80" font-size="3.60">−</tspan></text>
<text x="416.70" y="34.40" font-size="5.00" text-anchor="start" fill="#222" >TCD8<tspan dy="-1.80" font-size="3.60">+</tspan><tspan dy="1.80">TEMRA CD127</tspan><tspan dy="-1.80" font-size="3.60">low/−</tspan><tspan dy="1.80">PD1</tspan><tspan dy="-1.80" font-size="3.60">+</tspan></text>
<text x="414.10" y="24.40" font-size="5.00" text-anchor="start" fill="#222" >TCD8<tspan dy="-1.80" font-size="3.60">+</tspan><tspan dy="1.80">EM CD127</tspan><tspan dy="-1.80" font-size="3.60">+</tspan><tspan dy="1.80">PD1</tspan><tspan dy="-1.80" font-size="3.60">−</tspan><tspan dy="1.80">CD25</tspan><tspan dy="-1.80" font-size="3.60">+</tspan></text>
<text x="393.00" y="17.30" font-size="5.00" text-anchor="start" fill="#222" >TCD8<tspan dy="-1.80" font-size="3.60">+</tspan><tspan dy="1.80">EM CD127</tspan><tspan dy="-1.80" font-size="3.60">low/−</tspan><tspan dy="1.80">PD1</tspan><tspan dy="-1.80" font-size="3.60">−</tspan></text>
<text x="376.30" y="11.50" font-size="5.00" text-anchor="start" fill="#222" >TCD8<tspan dy="-1.80" font-size="3.60">+</tspan><tspan dy="1.80">EM CD127</tspan><tspan dy="-1.80" font-size="3.60">low/−</tspan><tspan dy="1.80">PD1</tspan><tspan dy="-1.80" font-size="3.60">+</tspan></text>
<text x="373.30" y="13.00" font-size="5.00" text-anchor="end" fill="#222" >TCD8<tspan dy="-1.80" font-size="3.60">+</tspan><tspan dy="1.80"> EM CD127</tspan><tspan dy="-1.80" font-size="3.60">+</tspan><tspan dy="1.80">PD1</tspan><tspan dy="-1.80" font-size="3.60">−</tspan></text>
<text x="361.20" y="18.75" font-size="5.00" text-anchor="end" fill="#222" >TCD8<tspan dy="-1.80" font-size="3.60">+</tspan><tspan dy="1.80">EM CD127</tspan><tspan dy="-1.80" font-size="3.60">+</tspan><tspan dy="1.80">PD1</tspan><tspan dy="-1.80" font-size="3.60">+</tspan></text>
<text x="338.20" y="23.65" font-size="5.00" text-anchor="end" fill="#222" >B cells</text>
<text x="323.70" y="29.70" font-size="5.00" text-anchor="end" fill="#222" >NK CD8<tspan dy="-1.80" font-size="3.60">dim</tspan></text>
<text x="310.80" y="37.50" font-size="5.00" text-anchor="end" fill="#222" >NK CD8<tspan dy="-1.80" font-size="3.60">−</tspan></text>
<text x="300.70" y="46.20" font-size="5.00" text-anchor="end" fill="#222" >Tγδ CD8<tspan dy="-1.80" font-size="3.60">dim</tspan><tspan dy="1.80"> EM</tspan></text>
<text x="292.00" y="57.80" font-size="5.00" text-anchor="end" fill="#222" >Tγδ CD8<tspan dy="-1.80" font-size="3.60">dim</tspan><tspan dy="1.80"> naive</tspan></text>
<text x="284.80" y="72.10" font-size="5.00" text-anchor="end" fill="#222" >Tγδ CD8<tspan dy="-1.80" font-size="3.60">dim</tspan><tspan dy="1.80"> TEMRA</tspan></text>
<text x="279.00" y="84.80" font-size="5.00" text-anchor="end" fill="#222" >Tγδ CD8<tspan dy="-1.80" font-size="3.60">−</tspan><tspan dy="1.80"> naive</tspan></text>
<text x="276.10" y="98.60" font-size="5.00" text-anchor="end" fill="#222" >Tγδ CD8<tspan dy="-1.80" font-size="3.60">−</tspan><tspan dy="1.80"> EM</tspan></text>
<text x="274.10" y="114.40" font-size="5.00" text-anchor="end" fill="#222" >Tγδ CD8<tspan dy="-1.80" font-size="3.60">−</tspan><tspan dy="1.80"> TEMRA</tspan></text>
<text x="275.60" y="128.40" font-size="5.00" text-anchor="end" fill="#222" >Treg CCR7<tspan dy="-1.80" font-size="3.60">−</tspan></text>
<text x="283.90" y="146.10" font-size="5.00" text-anchor="end" fill="#222" >TCD4+CM CD127<tspan dy="-1.80" font-size="3.60">low</tspan><tspan dy="1.80">PD1</tspan><tspan dy="-1.80" font-size="3.60">−</tspan></text>
<text x="283.90" y="157.10" font-size="5.00" text-anchor="end" fill="#222" >TCD4<tspan dy="-1.80" font-size="3.60">+</tspan><tspan dy="1.80"> naive</tspan></text>
<text x="289.70" y="166.80" font-size="5.00" text-anchor="end" fill="#222" >Treg CCR7<tspan dy="-1.80" font-size="3.60">+</tspan></text>
<text x="300.90" y="178.50" font-size="5.00" text-anchor="end" fill="#222" >TCD4<tspan dy="-1.80" font-size="3.60">+</tspan><tspan dy="1.80">EM CD127</tspan><tspan dy="-1.80" font-size="3.60">+</tspan><tspan dy="1.80">PD1</tspan><tspan dy="-1.80" font-size="3.60">−</tspan><tspan dy="1.80">CD25</tspan><tspan dy="-1.80" font-size="3.60">+</tspan></text>
<text x="307.80" y="187.30" font-size="5.00" text-anchor="end" fill="#222" >TCD4<tspan dy="-1.80" font-size="3.60">+</tspan><tspan dy="1.80">CM CD127</tspan><tspan dy="-1.80" font-size="3.60">+</tspan><tspan dy="1.80">PD1</tspan><tspan dy="-1.80" font-size="3.60">−</tspan></text>
<text x="316.60" y="195.30" font-size="5.00" text-anchor="end" fill="#222" >TCD4<tspan dy="-1.80" font-size="3.60">+</tspan><tspan dy="1.80">CM CD127</tspan><tspan dy="-1.80" font-size="3.60">+</tspan><tspan dy="1.80">PD1</tspan><tspan dy="-1.80" font-size="3.60">−</tspan><tspan dy="1.80">CD25</tspan><tspan dy="-1.80" font-size="3.60">+</tspan></text>
<text x="325.80" y="201.90" font-size="5.00" text-anchor="end" fill="#222" >TCD4<tspan dy="-1.80" font-size="3.60">+</tspan><tspan dy="1.80">CD8</tspan><tspan dy="-1.80" font-size="3.60">dim</tspan><tspan dy="1.80">EM CD127</tspan><tspan dy="-1.80" font-size="3.60">low/−</tspan><tspan dy="1.80">PD1</tspan><tspan dy="-1.80" font-size="3.60">+</tspan></text>
<text x="345.90" y="207.80" font-size="5.00" text-anchor="end" fill="#222" >TCD4+CD8<tspan dy="-1.80" font-size="3.60">dim</tspan><tspan dy="1.80">EM CD127</tspan><tspan dy="-1.80" font-size="3.60">low/−</tspan><tspan dy="1.80">PD1</tspan><tspan dy="-1.80" font-size="3.60">−</tspan></text>
<text x="372.80" y="213.50" font-size="5.00" text-anchor="end" fill="#222" >TCD4<tspan dy="-1.80" font-size="3.60">+</tspan><tspan dy="1.80">CD8</tspan><tspan dy="-1.80" font-size="3.60">dim</tspan><tspan dy="1.80">EM CD127</tspan><tspan dy="-1.80" font-size="3.60">+</tspan><tspan dy="1.80">PD1</tspan><tspan dy="-1.80" font-size="3.60">−</tspan></text>
<text x="378.70" y="211.00" font-size="5.00" text-anchor="start" fill="#222" >TCD4<tspan dy="-1.80" font-size="3.60">+</tspan><tspan dy="1.80">TEMRA CD127</tspan><tspan dy="-1.80" font-size="3.60">low/−</tspan><tspan dy="1.80">PD1</tspan><tspan dy="-1.80" font-size="3.60">−</tspan></text>
<text x="395.40" y="203.70" font-size="5.00" text-anchor="start" fill="#222" >TCD4<tspan dy="-1.80" font-size="3.60">+</tspan><tspan dy="1.80">EM CD127</tspan><tspan dy="-1.80" font-size="3.60">+</tspan><tspan dy="1.80">PD1</tspan><tspan dy="-1.80" font-size="3.60">−</tspan></text>
<text x="408.00" y="196.50" font-size="5.00" text-anchor="start" fill="#222" >TCD4<tspan dy="-1.80" font-size="3.60">+</tspan><tspan dy="1.80">EM CD127</tspan><tspan dy="-1.80" font-size="3.60">+</tspan><tspan dy="1.80">PD1</tspan><tspan dy="-1.80" font-size="3.60">+</tspan></text>
<text x="423.40" y="189.30" font-size="5.00" text-anchor="start" fill="#222" >TCD4<tspan dy="-1.80" font-size="3.60">+</tspan><tspan dy="1.80">EM CD127</tspan><tspan dy="-1.80" font-size="3.60">low/−</tspan><tspan dy="1.80">PD1</tspan><tspan dy="-1.80" font-size="3.60">−</tspan></text>
<text x="432.00" y="181.50" font-size="5.00" text-anchor="start" fill="#222" >TCD4<tspan dy="-1.80" font-size="3.60">+</tspan><tspan dy="1.80">EM CD127</tspan><tspan dy="-1.80" font-size="3.60">low/−</tspan><tspan dy="1.80">PD1</tspan><tspan dy="-1.80" font-size="3.60">+</tspan></text>
<text transform="translate(408.40 145.40) rotate(-42)" font-size="4.3" fill="#222">CD45RA</text>
<text transform="translate(412.12 149.19) rotate(-42)" font-size="4.3" fill="#222">CD127</text>
<text transform="translate(415.84 152.98) rotate(-42)" font-size="4.3" fill="#222">CD8</text>
<text transform="translate(419.56 156.77) rotate(-42)" font-size="4.3" fill="#222">TCRgd</text>
<text transform="translate(423.28 160.56) rotate(-42)" font-size="4.3" fill="#222">CD25</text>
<text transform="translate(427.00 164.35) rotate(-42)" font-size="4.3" fill="#222">CD197</text>
<text transform="translate(430.72 168.14) rotate(-42)" font-size="4.3" fill="#222">PD1</text>
<text transform="translate(434.44 171.93) rotate(-42)" font-size="4.3" fill="#222">CD4</text>
<text x="356.40" y="84.80" font-size="4.70" text-anchor="middle" fill="#333" >B/NK</text>
<text x="383.40" y="86.40" font-size="5.05" text-anchor="middle" fill="#333" stroke="#333" stroke-width="0.12">CD8+ T</text>
<text x="383.40" y="92.20" font-size="4.70" text-anchor="middle" fill="#333" >cells</text>
<text x="343.40" y="98.90" font-size="5.05" text-anchor="middle" fill="#333" stroke="#333" stroke-width="0.12">γδ T</text>
<text x="343.40" y="105.30" font-size="4.70" text-anchor="middle" fill="#333" >cells</text>
<text x="366.60" y="130.80" font-size="5.05" text-anchor="middle" fill="#333" stroke="#333" stroke-width="0.12">CD4+ T</text>
<text x="366.70" y="137.30" font-size="4.70" text-anchor="middle" fill="#333" >cells</text>
<text x="406.00" y="112.90" font-size="5.05" text-anchor="start" fill="#222" >Population %</text>
<circle cx="423.6" cy="117.60" r="1.40" fill="#111"/>
<text x="427.90" y="119.10" font-size="4.30" text-anchor="start" fill="#222" >5</text>
<circle cx="423.6" cy="122.40" r="1.90" fill="#111"/>
<text x="427.90" y="123.90" font-size="4.30" text-anchor="start" fill="#222" >10</text>
<circle cx="423.6" cy="127.50" r="2.45" fill="#111"/>
<text x="427.90" y="129.00" font-size="4.30" text-anchor="start" fill="#222" >15</text>
<text x="441.20" y="112.90" font-size="5.05" text-anchor="start" fill="#222" >Antigen expression</text>
<defs><linearGradient id="agrad" x1="0" y1="0" x2="0" y2="1"><stop offset="0" stop-color="#a80d0b"/><stop offset="0.33" stop-color="#e0503a"/><stop offset="0.66" stop-color="#f9a588"/><stop offset="1" stop-color="#fde0d3"/></linearGradient></defs>
<rect x="442.3" y="116.2" width="4.3" height="19.6" fill="url(#agrad)"/>
<text x="449.30" y="118.80" font-size="4.30" text-anchor="start" fill="#222" >1.00</text>
<text x="449.30" y="124.10" font-size="4.30" text-anchor="start" fill="#222" >0.75</text>
<text x="449.30" y="129.50" font-size="4.30" text-anchor="start" fill="#222" >0.50</text>
<text x="449.30" y="134.90" font-size="4.30" text-anchor="start" fill="#222" >0.25</text>
<text x="234.00" y="15.90" font-size="10.70" text-anchor="start" fill="#111" font-weight="bold" >B</text>
</g>
<g id="legend">
<text x="45.50" y="223.90" font-size="6.90" text-anchor="start" fill="#222" >Cell clusters</text>
<circle cx="47.50" cy="230.60" r="2.3" fill="#2222cc"/>
<text x="52.00" y="232.70" font-size="6.05" text-anchor="start" fill="#222" >B cells</text>
<circle cx="47.50" cy="239.82" r="2.3" fill="#dce9fb"/>
<text x="52.00" y="241.92" font-size="6.05" text-anchor="start" fill="#222" >Double positive</text>
<circle cx="47.50" cy="249.04" r="2.3" fill="#111111"/>
<text x="52.00" y="251.14" font-size="6.05" text-anchor="start" fill="#222" >NK CD8<tspan dy="-2.18" font-size="4.36">dim</tspan></text>
<circle cx="47.50" cy="258.26" r="2.3" fill="#1b5a48"/>
<text x="52.00" y="260.36" font-size="6.05" text-anchor="start" fill="#222" >NK CD8<tspan dy="-2.18" font-size="4.36">−</tspan></text>
<circle cx="47.50" cy="267.48" r="2.3" fill="#ffa79a"/>
<text x="52.00" y="269.58" font-size="6.05" text-anchor="start" fill="#222" >TCD4<tspan dy="-2.18" font-size="4.36">+</tspan><tspan dy="2.18">CD8</tspan><tspan dy="-2.18" font-size="4.36">dim</tspan><tspan dy="2.18">EM CD127</tspan><tspan dy="-2.18" font-size="4.36">low/−</tspan><tspan dy="2.18">PD1</tspan><tspan dy="-2.18" font-size="4.36">+</tspan></text>
<circle cx="47.50" cy="276.70" r="2.3" fill="#ff99cc"/>
<text x="52.00" y="278.80" font-size="6.05" text-anchor="start" fill="#222" >TCD4<tspan dy="-2.18" font-size="4.36">+</tspan><tspan dy="2.18">CD8</tspan><tspan dy="-2.18" font-size="4.36">dim</tspan><tspan dy="2.18"> EM CD127</tspan><tspan dy="-2.18" font-size="4.36">+</tspan><tspan dy="2.18"> PD1</tspan><tspan dy="-2.18" font-size="4.36">−</tspan></text>
<circle cx="47.50" cy="285.92" r="2.3" fill="#cc9144"/>
<text x="52.00" y="288.02" font-size="6.05" text-anchor="start" fill="#222" >TCD4<tspan dy="-2.18" font-size="4.36">+</tspan><tspan dy="2.18">CM CD127</tspan><tspan dy="-2.18" font-size="4.36">low</tspan><tspan dy="2.18">PD1</tspan><tspan dy="-2.18" font-size="4.36">−</tspan></text>
<circle cx="47.50" cy="295.14" r="2.3" fill="#5566ff"/>
<text x="52.00" y="297.24" font-size="6.05" text-anchor="start" fill="#222" >TCD4<tspan dy="-2.18" font-size="4.36">+</tspan><tspan dy="2.18">CM CD127</tspan><tspan dy="-2.18" font-size="4.36">low</tspan><tspan dy="2.18">PD1</tspan><tspan dy="-2.18" font-size="4.36">+</tspan></text>
<circle cx="47.50" cy="304.36" r="2.3" fill="#119933"/>
<text x="52.00" y="306.46" font-size="6.05" text-anchor="start" fill="#222" >TCD4<tspan dy="-2.18" font-size="4.36">+</tspan><tspan dy="2.18">CM CD127</tspan><tspan dy="-2.18" font-size="4.36">+</tspan><tspan dy="2.18">PD1</tspan><tspan dy="-2.18" font-size="4.36">−</tspan></text>
<circle cx="47.50" cy="313.58" r="2.3" fill="#7a1010"/>
<text x="52.00" y="315.68" font-size="6.05" text-anchor="start" fill="#222" >TCD4<tspan dy="-2.18" font-size="4.36">+</tspan><tspan dy="2.18">CM CD127</tspan><tspan dy="-2.18" font-size="4.36">+</tspan><tspan dy="2.18">PD1</tspan><tspan dy="-2.18" font-size="4.36">−</tspan><tspan dy="2.18">CD25</tspan><tspan dy="-2.18" font-size="4.36">+</tspan></text>
<circle cx="47.50" cy="322.80" r="2.3" fill="#22dd22"/>
<text x="52.00" y="324.90" font-size="6.05" text-anchor="start" fill="#222" >TCD4<tspan dy="-2.18" font-size="4.36">+</tspan><tspan dy="2.18">EM CD127</tspan><tspan dy="-2.18" font-size="4.36">low/−</tspan><tspan dy="2.18">PD1</tspan><tspan dy="-2.18" font-size="4.36">−</tspan></text>
<circle cx="169.50" cy="230.60" r="2.3" fill="#8899ff"/>
<text x="174.30" y="232.70" font-size="6.05" text-anchor="start" fill="#222" >TCD8<tspan dy="-2.18" font-size="4.36">+</tspan><tspan dy="2.18">CM CD127</tspan><tspan dy="-2.18" font-size="4.36">+</tspan><tspan dy="2.18">PD1</tspan><tspan dy="-2.18" font-size="4.36">+</tspan></text>
<circle cx="169.50" cy="239.82" r="2.3" fill="#a04010"/>
<text x="174.30" y="241.92" font-size="6.05" text-anchor="start" fill="#222" >TCD8<tspan dy="-2.18" font-size="4.36">+</tspan><tspan dy="2.18">EM CD127</tspan><tspan dy="-2.18" font-size="4.36">low/−</tspan><tspan dy="2.18">PD1</tspan><tspan dy="-2.18" font-size="4.36">−</tspan></text>
<circle cx="169.50" cy="249.04" r="2.3" fill="#ff55ff"/>
<text x="174.30" y="251.14" font-size="6.05" text-anchor="start" fill="#222" >TCD8<tspan dy="-2.18" font-size="4.36">+</tspan><tspan dy="2.18">EM CD127</tspan><tspan dy="-2.18" font-size="4.36">low/−</tspan><tspan dy="2.18">PD1</tspan><tspan dy="-2.18" font-size="4.36">+</tspan></text>
<circle cx="169.50" cy="258.26" r="2.3" fill="#66ddff"/>
<text x="174.30" y="260.36" font-size="6.05" text-anchor="start" fill="#222" >TCD8<tspan dy="-2.18" font-size="4.36">+</tspan><tspan dy="2.18">EM CD127</tspan><tspan dy="-2.18" font-size="4.36">+</tspan><tspan dy="2.18">PD1</tspan><tspan dy="-2.18" font-size="4.36">−</tspan></text>
<circle cx="169.50" cy="267.48" r="2.3" fill="#11dd99"/>
<text x="174.30" y="269.58" font-size="6.05" text-anchor="start" fill="#222" >TCD8<tspan dy="-2.18" font-size="4.36">+</tspan><tspan dy="2.18">EM CD127</tspan><tspan dy="-2.18" font-size="4.36">+</tspan><tspan dy="2.18">PD1</tspan><tspan dy="-2.18" font-size="4.36">−</tspan><tspan dy="2.18">CD25</tspan><tspan dy="-2.18" font-size="4.36">+</tspan></text>
<circle cx="169.50" cy="276.70" r="2.3" fill="#3d2a5c"/>
<text x="174.30" y="278.80" font-size="6.05" text-anchor="start" fill="#222" >TCD8<tspan dy="-2.18" font-size="4.36">+</tspan><tspan dy="2.18">EM CD127</tspan><tspan dy="-2.18" font-size="4.36">+</tspan><tspan dy="2.18">PD1</tspan><tspan dy="-2.18" font-size="4.36">+</tspan></text>
<circle cx="169.50" cy="285.92" r="2.3" fill="#ffffdd"/>
<text x="174.30" y="288.02" font-size="6.05" text-anchor="start" fill="#222" >TCD8<tspan dy="-2.18" font-size="4.36">+</tspan><tspan dy="2.18">Naive</tspan></text>
<circle cx="169.50" cy="295.14" r="2.3" fill="#ffff66"/>
<text x="174.30" y="297.24" font-size="6.05" text-anchor="start" fill="#222" >TCD8<tspan dy="-2.18" font-size="4.36">+</tspan><tspan dy="2.18">TEMRA CD127</tspan><tspan dy="-2.18" font-size="4.36">low/−</tspan><tspan dy="2.18">PD1</tspan><tspan dy="-2.18" font-size="4.36">−</tspan></text>
<circle cx="169.50" cy="304.36" r="2.3" fill="#aa6688"/>
<text x="174.30" y="306.46" font-size="6.05" text-anchor="start" fill="#222" >TCD8<tspan dy="-2.18" font-size="4.36">+</tspan><tspan dy="2.18">TEMRA CD127</tspan><tspan dy="-2.18" font-size="4.36">low/−</tspan><tspan dy="2.18">PD1</tspan><tspan dy="-2.18" font-size="4.36">+</tspan></text>
<circle cx="169.50" cy="313.58" r="2.3" fill="#0a4a0a"/>
<text x="174.30" y="315.68" font-size="6.05" text-anchor="start" fill="#222" >Tγδ CD8<tspan dy="-2.18" font-size="4.36">dim</tspan><tspan dy="2.18"> EM</tspan></text>
<circle cx="169.50" cy="322.80" r="2.3" fill="#8a3a3a"/>
<text x="174.30" y="324.90" font-size="6.05" text-anchor="start" fill="#222" >Tγδ CD8<tspan dy="-2.18" font-size="4.36">dim</tspan><tspan dy="2.18"> naive</tspan></text>
<circle cx="267.50" cy="230.60" r="2.3" fill="#6b7a10"/>
<text x="272.00" y="232.70" font-size="6.05" text-anchor="start" fill="#222" >TCD4<tspan dy="-2.18" font-size="4.36">+</tspan><tspan dy="2.18">EM CD127</tspan><tspan dy="-2.18" font-size="4.36">low/−</tspan><tspan dy="2.18">PD1</tspan><tspan dy="-2.18" font-size="4.36">+</tspan></text>
<circle cx="267.50" cy="239.82" r="2.3" fill="#1166ee"/>
<text x="272.00" y="241.92" font-size="6.05" text-anchor="start" fill="#222" >TCD4<tspan dy="-2.18" font-size="4.36">+</tspan><tspan dy="2.18">EM CD127</tspan><tspan dy="-2.18" font-size="4.36">+</tspan><tspan dy="2.18">PD1</tspan><tspan dy="-2.18" font-size="4.36">−</tspan></text>
<circle cx="267.50" cy="249.04" r="2.3" fill="#ee1155"/>
<text x="272.00" y="251.14" font-size="6.05" text-anchor="start" fill="#222" >TCD4<tspan dy="-2.18" font-size="4.36">+</tspan><tspan dy="2.18">EM CD127</tspan><tspan dy="-2.18" font-size="4.36">+</tspan><tspan dy="2.18">PD1</tspan><tspan dy="-2.18" font-size="4.36">−</tspan><tspan dy="2.18">CD25</tspan><tspan dy="-2.18" font-size="4.36">+</tspan></text>
<circle cx="267.50" cy="258.26" r="2.3" fill="#88ffaa"/>
<text x="272.00" y="260.36" font-size="6.05" text-anchor="start" fill="#222" >TCD4<tspan dy="-2.18" font-size="4.36">+</tspan><tspan dy="2.18">EM CD127</tspan><tspan dy="-2.18" font-size="4.36">+</tspan><tspan dy="2.18">PD1</tspan><tspan dy="-2.18" font-size="4.36">+</tspan></text>
<circle cx="267.50" cy="267.48" r="2.3" fill="#ff6666"/>
<text x="272.00" y="269.58" font-size="6.05" text-anchor="start" fill="#222" >TCD4<tspan dy="-2.18" font-size="4.36">+</tspan><tspan dy="2.18">Naive</tspan></text>
<circle cx="267.50" cy="276.70" r="2.3" fill="#ff11ee"/>
<text x="272.00" y="278.80" font-size="6.05" text-anchor="start" fill="#222" >TCD4<tspan dy="-2.18" font-size="4.36">+</tspan><tspan dy="2.18">TEMRA CD127</tspan><tspan dy="-2.18" font-size="4.36">low/−</tspan><tspan dy="2.18">PD1</tspan><tspan dy="-2.18" font-size="4.36">−</tspan></text>
<circle cx="267.50" cy="285.92" r="2.3" fill="#5a5a4a"/>
<text x="272.00" y="288.02" font-size="6.05" text-anchor="start" fill="#222" >TCD8<tspan dy="-2.18" font-size="4.36">+</tspan><tspan dy="2.18">CM CD127</tspan><tspan dy="-2.18" font-size="4.36">low/−</tspan><tspan dy="2.18">PD1</tspan><tspan dy="-2.18" font-size="4.36">−</tspan></text>
<circle cx="267.50" cy="295.14" r="2.3" fill="#ff6622"/>
<text x="272.00" y="297.24" font-size="6.05" text-anchor="start" fill="#222" >TCD8<tspan dy="-2.18" font-size="4.36">+</tspan><tspan dy="2.18">CM CD127</tspan><tspan dy="-2.18" font-size="4.36">low/−</tspan><tspan dy="2.18">PD1</tspan><tspan dy="-2.18" font-size="4.36">+</tspan></text>
<circle cx="390.00" cy="230.60" r="2.3" fill="#111122"/>
<text x="394.50" y="232.70" font-size="6.05" text-anchor="start" fill="#222" >Tγδ CD8<tspan dy="-2.18" font-size="4.36">dim</tspan><tspan dy="2.18"> TEMRA</tspan></text>
<circle cx="390.00" cy="239.82" r="2.3" fill="#ff2211"/>
<text x="394.50" y="241.92" font-size="6.05" text-anchor="start" fill="#222" >Tγδ CD8<tspan dy="-2.18" font-size="4.36">−</tspan><tspan dy="2.18"> EM</tspan></text>
<circle cx="390.00" cy="249.04" r="2.3" fill="#88cc66"/>
<text x="394.50" y="251.14" font-size="6.05" text-anchor="start" fill="#222" >Tγδ CD8<tspan dy="-2.18" font-size="4.36">−</tspan><tspan dy="2.18"> naive</tspan></text>
<circle cx="390.00" cy="258.26" r="2.3" fill="#5f8f80"/>
<text x="394.50" y="260.36" font-size="6.05" text-anchor="start" fill="#222" >Tγδ CD8<tspan dy="-2.18" font-size="4.36">−</tspan><tspan dy="2.18"> TEMRA</tspan></text>
<circle cx="390.00" cy="267.48" r="2.3" fill="#ee5588"/>
<text x="394.50" y="269.58" font-size="6.05" text-anchor="start" fill="#222" >Treg CCR7<tspan dy="-2.18" font-size="4.36">−</tspan></text>
<circle cx="390.00" cy="276.70" r="2.3" fill="#ffd9e6"/>
<text x="394.50" y="278.80" font-size="6.05" text-anchor="start" fill="#222" >Treg CCR7<tspan dy="-2.18" font-size="4.36">+</tspan></text>
</g>
<g id="panelC">
<text x="7.00" y="361.20" font-size="10.70" text-anchor="start" fill="#111" font-weight="bold" >C</text>
<text x="92.30" y="360.80" font-size="7.10" text-anchor="middle" fill="#222" >Pre-maintenance</text>
<text x="163.70" y="360.80" font-size="7.10" text-anchor="middle" fill="#222" >1<tspan dy="-2.56" font-size="4.97">st</tspan><tspan dy="2.56"> year</tspan></text>
<text x="230.80" y="360.80" font-size="7.10" text-anchor="middle" fill="#222" >2<tspan dy="-2.56" font-size="4.97">nd</tspan><tspan dy="2.56"> year</tspan></text>
<text x="35.80" y="404.80" font-size="7.50" text-anchor="middle" fill="#222" >CD4+ T</text>
<text x="35.70" y="413.70" font-size="7.35" text-anchor="middle" fill="#222" >compartment</text>
<text x="35.80" y="471.30" font-size="7.50" text-anchor="middle" fill="#222" >CD8+ T</text>
<text x="35.70" y="480.20" font-size="7.35" text-anchor="middle" fill="#222" >compartment</text>
<text x="35.80" y="545.70" font-size="7.50" text-anchor="middle" fill="#222" >γδ T</text>
<text x="35.70" y="554.60" font-size="7.35" text-anchor="middle" fill="#222" >compartment</text>
<path d="M94.73 370.40 A31.10 31.10 0 0 0 94.30 370.40 L94.30 378.00 A23.50 23.50 0 0 1 94.63 378.00 Z" fill="#1f3f7b" stroke="#1f3f7b" stroke-width="0.25"/>
<path d="M99.81 370.89 A31.10 31.10 0 0 0 94.73 370.40 L94.63 378.00 A23.50 23.50 0 0 1 98.46 378.37 Z" fill="#3e6fd0" stroke="#3e6fd0" stroke-width="0.25"/>
<path d="M106.85 373.04 A31.10 31.10 0 0 0 99.81 370.89 L98.46 378.37 A23.50 23.50 0 0 1 103.78 380.00 Z" fill="#d6e0f5" stroke="#d6e0f5" stroke-width="0.25"/>
<path d="M115.39 378.64 A31.10 31.10 0 0 0 106.85 373.04 L103.78 380.00 A23.50 23.50 0 0 1 110.24 384.23 Z" fill="#5fc8fa" stroke="#5fc8fa" stroke-width="0.25"/>
<path d="M125.27 398.63 A31.10 31.10 0 0 0 115.39 378.64 L110.24 384.23 A23.50 23.50 0 0 1 117.70 399.33 Z" fill="#6699ff" stroke="#6699ff" stroke-width="0.25"/>
<path d="M125.39 400.79 A31.10 31.10 0 0 0 125.27 398.63 L117.70 399.33 A23.50 23.50 0 0 1 117.79 400.97 Z" fill="#3399ff" stroke="#3399ff" stroke-width="0.25"/>
<path d="M124.81 407.54 A31.10 31.10 0 0 0 125.39 400.79 L117.79 400.97 A23.50 23.50 0 0 1 117.35 406.06 Z" fill="#2a5cff" stroke="#2a5cff" stroke-width="0.25"/>
<path d="M94.30 370.40 A31.10 31.10 0 1 0 124.81 407.54 L117.35 406.06 A23.50 23.50 0 1 1 94.30 378.00 Z" fill="#1f3f7b" stroke="#1f3f7b" stroke-width="0.25"/>
<path d="M165.03 370.40 A31.10 31.10 0 0 0 164.60 370.40 L164.60 378.00 A23.50 23.50 0 0 1 164.93 378.00 Z" fill="#1f3f7b" stroke="#1f3f7b" stroke-width="0.25"/>
<path d="M174.67 372.08 A31.10 31.10 0 0 0 165.03 370.40 L164.93 378.00 A23.50 23.50 0 0 1 172.21 379.27 Z" fill="#3e6fd0" stroke="#3e6fd0" stroke-width="0.25"/>
<path d="M178.23 373.55 A31.10 31.10 0 0 0 174.67 372.08 L172.21 379.27 A23.50 23.50 0 0 1 174.90 380.38 Z" fill="#d6e0f5" stroke="#d6e0f5" stroke-width="0.25"/>
<path d="M191.48 385.86 A31.10 31.10 0 0 0 178.23 373.55 L174.90 380.38 A23.50 23.50 0 0 1 184.91 389.68 Z" fill="#5fc8fa" stroke="#5fc8fa" stroke-width="0.25"/>
<path d="M194.90 394.50 A31.10 31.10 0 0 0 191.48 385.86 L184.91 389.68 A23.50 23.50 0 0 1 187.50 396.21 Z" fill="#6699ff" stroke="#6699ff" stroke-width="0.25"/>
<path d="M195.18 395.83 A31.10 31.10 0 0 0 194.90 394.50 L187.50 396.21 A23.50 23.50 0 0 1 187.71 397.22 Z" fill="#3399ff" stroke="#3399ff" stroke-width="0.25"/>
<path d="M195.69 402.37 A31.10 31.10 0 0 0 195.18 395.83 L187.71 397.22 A23.50 23.50 0 0 1 188.09 402.16 Z" fill="#2a5cff" stroke="#2a5cff" stroke-width="0.25"/>
<path d="M164.60 370.40 A31.10 31.10 0 1 0 195.69 402.37 L188.09 402.16 A23.50 23.50 0 1 1 164.60 378.00 Z" fill="#1f3f7b" stroke="#1f3f7b" stroke-width="0.25"/>
<path d="M232.03 370.40 A31.10 31.10 0 0 0 231.60 370.40 L231.60 378.00 A23.50 23.50 0 0 1 231.93 378.00 Z" fill="#1f3f7b" stroke="#1f3f7b" stroke-width="0.25"/>
<path d="M242.85 372.50 A31.10 31.10 0 0 0 232.03 370.40 L231.93 378.00 A23.50 23.50 0 0 1 240.10 379.59 Z" fill="#3e6fd0" stroke="#3e6fd0" stroke-width="0.25"/>
<path d="M246.96 374.46 A31.10 31.10 0 0 0 242.85 372.50 L240.10 379.59 A23.50 23.50 0 0 1 243.21 381.07 Z" fill="#d6e0f5" stroke="#d6e0f5" stroke-width="0.25"/>
<path d="M259.76 388.31 A31.10 31.10 0 0 0 246.96 374.46 L243.21 381.07 A23.50 23.50 0 0 1 252.88 391.53 Z" fill="#5fc8fa" stroke="#5fc8fa" stroke-width="0.25"/>
<path d="M262.23 396.10 A31.10 31.10 0 0 0 259.76 388.31 L252.88 391.53 A23.50 23.50 0 0 1 254.74 397.42 Z" fill="#6699ff" stroke="#6699ff" stroke-width="0.25"/>
<path d="M262.40 397.17 A31.10 31.10 0 0 0 262.23 396.10 L254.74 397.42 A23.50 23.50 0 0 1 254.87 398.23 Z" fill="#3399ff" stroke="#3399ff" stroke-width="0.25"/>
<path d="M262.67 402.80 A31.10 31.10 0 0 0 262.40 397.17 L254.87 398.23 A23.50 23.50 0 0 1 255.08 402.48 Z" fill="#2a5cff" stroke="#2a5cff" stroke-width="0.25"/>
<path d="M231.60 370.40 A31.10 31.10 0 1 0 262.67 402.80 L255.08 402.48 A23.50 23.50 0 1 1 231.60 378.00 Z" fill="#1f3f7b" stroke="#1f3f7b" stroke-width="0.25"/>
<path d="M94.63 442.65 A31.20 31.20 0 0 0 94.30 442.65 L94.30 450.25 A23.60 23.60 0 0 1 94.55 450.25 Z" fill="#a5d38d" stroke="#a5d38d" stroke-width="0.25"/>
<path d="M104.25 444.28 A31.20 31.20 0 0 0 94.63 442.65 L94.55 450.25 A23.60 23.60 0 0 1 101.83 451.48 Z" fill="#dfeeda" stroke="#dfeeda" stroke-width="0.25"/>
<path d="M109.38 446.54 A31.20 31.20 0 0 0 104.25 444.28 L101.83 451.48 A23.60 23.60 0 0 1 105.71 453.19 Z" fill="#5ff0d2" stroke="#5ff0d2" stroke-width="0.25"/>
<path d="M94.30 442.65 A31.20 31.20 0 1 0 109.38 446.54 L105.71 453.19 A23.60 23.60 0 1 1 94.30 450.25 Z" fill="#a5d38d" stroke="#a5d38d" stroke-width="0.25"/>
<path d="M164.98 442.65 A31.20 31.20 0 0 0 164.65 442.65 L164.65 450.25 A23.60 23.60 0 0 1 164.90 450.25 Z" fill="#a5d38d" stroke="#a5d38d" stroke-width="0.25"/>
<path d="M178.81 446.05 A31.20 31.20 0 0 0 164.98 442.65 L164.90 450.25 A23.60 23.60 0 0 1 175.36 452.82 Z" fill="#dfeeda" stroke="#dfeeda" stroke-width="0.25"/>
<path d="M180.81 447.16 A31.20 31.20 0 0 0 178.81 446.05 L175.36 452.82 A23.60 23.60 0 0 1 176.88 453.66 Z" fill="#22bbbb" stroke="#22bbbb" stroke-width="0.25"/>
<path d="M164.65 442.65 A31.20 31.20 0 1 0 180.81 447.16 L176.88 453.66 A23.60 23.60 0 1 1 164.65 450.25 Z" fill="#a5d38d" stroke="#a5d38d" stroke-width="0.25"/>
<path d="M232.03 442.65 A31.20 31.20 0 0 0 231.70 442.65 L231.70 450.25 A23.60 23.60 0 0 1 231.95 450.25 Z" fill="#a5d38d" stroke="#a5d38d" stroke-width="0.25"/>
<path d="M246.59 446.43 A31.20 31.20 0 0 0 232.03 442.65 L231.95 450.25 A23.60 23.60 0 0 1 242.96 453.11 Z" fill="#dfeeda" stroke="#dfeeda" stroke-width="0.25"/>
<path d="M248.83 447.77 A31.20 31.20 0 0 0 246.59 446.43 L242.96 453.11 A23.60 23.60 0 0 1 244.66 454.12 Z" fill="#22bbbb" stroke="#22bbbb" stroke-width="0.25"/>
<path d="M231.70 442.65 A31.20 31.20 0 1 0 248.83 447.77 L244.66 454.12 A23.60 23.60 0 1 1 231.70 450.25 Z" fill="#a5d38d" stroke="#a5d38d" stroke-width="0.25"/>
<path d="M96.61 517.91 A31.10 31.10 0 0 0 95.90 517.90 L95.90 525.50 A23.50 23.50 0 0 1 96.43 525.51 Z" fill="#e1e1e1" stroke="#e1e1e1" stroke-width="0.25"/>
<path d="M101.83 518.47 A31.10 31.10 0 0 0 96.61 517.91 L96.43 525.51 A23.50 23.50 0 0 1 100.38 525.93 Z" fill="#a8a3a3" stroke="#a8a3a3" stroke-width="0.25"/>
<path d="M102.37 518.58 A31.10 31.10 0 0 0 101.83 518.47 L100.38 525.93 A23.50 23.50 0 0 1 100.79 526.01 Z" fill="#f4f4f4" stroke="#f4f4f4" stroke-width="0.25"/>
<path d="M95.90 517.90 A31.10 31.10 0 1 0 102.37 518.58 L100.79 526.01 A23.50 23.50 0 1 1 95.90 525.50 Z" fill="#e1e1e1" stroke="#e1e1e1" stroke-width="0.25"/>
<path d="M164.81 517.90 A31.10 31.10 0 0 0 164.65 517.90 L164.65 525.50 A23.50 23.50 0 0 1 164.77 525.50 Z" fill="#e1e1e1" stroke="#e1e1e1" stroke-width="0.25"/>
<path d="M165.36 517.91 A31.10 31.10 0 0 0 164.81 517.90 L164.77 525.50 A23.50 23.50 0 0 1 165.18 525.51 Z" fill="#f4f4f4" stroke="#f4f4f4" stroke-width="0.25"/>
<path d="M178.04 520.93 A31.10 31.10 0 0 0 165.36 517.91 L165.18 525.51 A23.50 23.50 0 0 1 174.77 527.79 Z" fill="#a8a3a3" stroke="#a8a3a3" stroke-width="0.25"/>
<path d="M178.77 521.29 A31.10 31.10 0 0 0 178.04 520.93 L174.77 527.79 A23.50 23.50 0 0 1 175.32 528.06 Z" fill="#ffffff" stroke="#ffffff" stroke-width="0.25"/>
<path d="M164.65 517.90 A31.10 31.10 0 1 0 178.77 521.29 L175.32 528.06 A23.50 23.50 0 1 1 164.65 525.50 Z" fill="#e1e1e1" stroke="#e1e1e1" stroke-width="0.25"/>
<path d="M231.56 517.90 A31.10 31.10 0 0 0 231.40 517.90 L231.40 525.50 A23.50 23.50 0 0 1 231.52 525.50 Z" fill="#e1e1e1" stroke="#e1e1e1" stroke-width="0.25"/>
<path d="M232.11 517.91 A31.10 31.10 0 0 0 231.56 517.90 L231.52 525.50 A23.50 23.50 0 0 1 231.93 525.51 Z" fill="#f4f4f4" stroke="#f4f4f4" stroke-width="0.25"/>
<path d="M243.65 520.41 A31.10 31.10 0 0 0 232.11 517.91 L231.93 525.51 A23.50 23.50 0 0 1 240.66 527.40 Z" fill="#a8a3a3" stroke="#a8a3a3" stroke-width="0.25"/>
<path d="M244.40 520.75 A31.10 31.10 0 0 0 243.65 520.41 L240.66 527.40 A23.50 23.50 0 0 1 241.22 527.65 Z" fill="#ffffff" stroke="#ffffff" stroke-width="0.25"/>
<path d="M231.40 517.90 A31.10 31.10 0 1 0 244.40 520.75 L241.22 527.65 A23.50 23.50 0 1 1 231.40 525.50 Z" fill="#e1e1e1" stroke="#e1e1e1" stroke-width="0.25"/>
<rect x="15.3" y="599.00" width="11.6" height="3.2" fill="#3e6fd0"/>
<text x="29.60" y="602.60" font-size="5.90" text-anchor="start" fill="#222" >TCD4<tspan dy="-2.12" font-size="4.25">+</tspan><tspan dy="2.12">CM CD127</tspan><tspan dy="-2.12" font-size="4.25">low</tspan><tspan dy="2.12">PD1</tspan><tspan dy="-2.12" font-size="4.25">−</tspan><tspan dy="2.12"> (<tspan font-style="italic">ρ</tspan> = 0.000)</tspan></text>
<rect x="15.3" y="609.63" width="11.6" height="3.2" fill="#d6e0f5"/>
<text x="29.60" y="613.23" font-size="5.90" text-anchor="start" fill="#222" >TCD4<tspan dy="-2.12" font-size="4.25">+</tspan><tspan dy="2.12">CM CD127</tspan><tspan dy="-2.12" font-size="4.25">low</tspan><tspan dy="2.12">PD1</tspan><tspan dy="-2.12" font-size="4.25">+</tspan><tspan dy="2.12"> (<tspan font-style="italic">ρ</tspan> = 0.006)</tspan></text>
<rect x="15.3" y="620.26" width="11.6" height="3.2" fill="#5fc8fa"/>
<text x="29.60" y="623.86" font-size="5.90" text-anchor="start" fill="#222" >TCD4<tspan dy="-2.12" font-size="4.25">+</tspan><tspan dy="2.12">EM CD127</tspan><tspan dy="-2.12" font-size="4.25">+</tspan><tspan dy="2.12">PD1</tspan><tspan dy="-2.12" font-size="4.25">−</tspan><tspan dy="2.12">CD25</tspan><tspan dy="-2.12" font-size="4.25">+</tspan><tspan dy="2.12"> (<tspan font-style="italic">ρ</tspan> = 0.000)</tspan></text>
<rect x="15.3" y="630.89" width="11.6" height="3.2" fill="#6699ff"/>
<text x="29.60" y="634.49" font-size="5.90" text-anchor="start" fill="#222" >TCD4<tspan dy="-2.12" font-size="4.25">+</tspan><tspan dy="2.12">Naive (<tspan font-style="italic">ρ</tspan> = 0.000)</tspan></text>
<rect x="15.3" y="641.52" width="11.6" height="3.2" fill="#3399ff"/>
<text x="29.60" y="645.12" font-size="5.90" text-anchor="start" fill="#222" >TCD4<tspan dy="-2.12" font-size="4.25">+</tspan><tspan dy="2.12">TEMRA CD127</tspan><tspan dy="-2.12" font-size="4.25">low</tspan><tspan dy="2.12">PD1</tspan><tspan dy="-2.12" font-size="4.25">−</tspan><tspan dy="2.12"> (<tspan font-style="italic">ρ</tspan> = 0.010)</tspan></text>
<rect x="15.3" y="652.15" width="11.6" height="3.2" fill="#2a5cff"/>
<text x="29.60" y="655.75" font-size="5.90" text-anchor="start" fill="#222" >Treg CCR7<tspan dy="-2.12" font-size="4.25">−</tspan><tspan dy="2.12"> (<tspan font-style="italic">ρ</tspan> = 0.042)</tspan></text>
<rect x="15.3" y="662.78" width="11.6" height="3.2" fill="#1f3f7b"/>
<text x="29.60" y="666.38" font-size="5.90" text-anchor="start" fill="#222" >Other CD4<tspan dy="-2.12" font-size="4.25">+</tspan><tspan dy="2.12"> T cell subsets</tspan></text>
<rect x="152.1" y="597.70" width="11.6" height="3.2" fill="#dfeeda"/>
<text x="166.40" y="601.30" font-size="5.90" text-anchor="start" fill="#222" >TCD8<tspan dy="-2.12" font-size="4.25">+</tspan><tspan dy="2.12"> EM CD127</tspan><tspan dy="-2.12" font-size="4.25">+</tspan><tspan dy="2.12">PD1</tspan><tspan dy="-2.12" font-size="4.25">−</tspan><tspan dy="2.12"> (<tspan font-style="italic">ρ</tspan> = 0.000)</tspan></text>
<rect x="152.1" y="608.50" width="11.6" height="3.2" fill="#22bbbb"/>
<text x="166.40" y="612.10" font-size="5.90" text-anchor="start" fill="#222" >TCD8<tspan dy="-2.12" font-size="4.25">+</tspan><tspan dy="2.12"> EM CD127</tspan><tspan dy="-2.12" font-size="4.25">+</tspan><tspan dy="2.12">PD1</tspan><tspan dy="-2.12" font-size="4.25">−</tspan><tspan dy="2.12">CD25</tspan><tspan dy="-2.12" font-size="4.25">+</tspan><tspan dy="2.12"> (<tspan font-style="italic">ρ</tspan> = 0.007)</tspan></text>
<rect x="152.1" y="619.30" width="11.6" height="3.2" fill="#5ff0d2"/>
<text x="166.40" y="622.90" font-size="5.90" text-anchor="start" fill="#222" >TCD8<tspan dy="-2.12" font-size="4.25">+</tspan><tspan dy="2.12"> TEMRA CD127</tspan><tspan dy="-2.12" font-size="4.25">low</tspan><tspan dy="2.12">PD1</tspan><tspan dy="-2.12" font-size="4.25">+</tspan><tspan dy="2.12"> (<tspan font-style="italic">ρ</tspan> = 0.000)</tspan></text>
<rect x="152.1" y="630.10" width="11.6" height="3.2" fill="#a5d38d"/>
<text x="166.40" y="633.70" font-size="5.90" text-anchor="start" fill="#222" >Other CD8<tspan dy="-2.12" font-size="4.25">+</tspan><tspan dy="2.12"> T cell subsets</tspan></text>
<rect x="152.1" y="640.90" width="11.6" height="3.2" fill="#a8a3a3"/>
<text x="166.40" y="644.50" font-size="5.90" text-anchor="start" fill="#222" >Tγδ CD8<tspan dy="-2.12" font-size="4.25">dim</tspan><tspan dy="2.12">EM (<tspan font-style="italic">ρ</tspan> = 0.024)</tspan></text>
<rect x="152.1" y="651.70" width="11.6" height="3.2" fill="#e1e1e1"/>
<text x="166.40" y="655.30" font-size="5.90" text-anchor="start" fill="#222" >Other Tγδ subsets</text>
</g>
<g id="panelD">
<text x="288.00" y="361.40" font-size="10.70" text-anchor="start" fill="#111" font-weight="bold" >D</text>
<text transform="translate(304.7 497.4) rotate(-90)" font-size="8.5" fill="#333" textLength="123" lengthAdjust="spacingAndGlyphs">Difference from pre-maintenance time</text>
<rect x="330.00" y="343.65" width="80.20" height="84.65" fill="#fff" stroke="#222" stroke-width="1.05"/>
<path d="M330.00 371.50 H410.20" stroke="#222" stroke-width="1.05"/>
<text x="370.10" y="355.85" font-size="7.30" text-anchor="middle" fill="#222" >Double</text>
<text x="370.10" y="364.85" font-size="7.30" text-anchor="middle" fill="#222" >positive T</text>
<path d="M330.00 376.85 h-2.9" stroke="#222" stroke-width="0.7"/>
<text x="325.00" y="379.65" font-size="7.40" text-anchor="end" fill="#333" >0.2</text>
<path d="M330.00 392.75 h-2.9" stroke="#222" stroke-width="0.7"/>
<text x="325.00" y="395.55" font-size="7.40" text-anchor="end" fill="#333" >0.1</text>
<path d="M330.00 408.65 h-2.9" stroke="#222" stroke-width="0.7"/>
<text x="325.00" y="411.45" font-size="7.40" text-anchor="end" fill="#333" >0.0</text>
<path d="M330.00 424.55 h-2.9" stroke="#222" stroke-width="0.7"/>
<text x="325.00" y="427.35" font-size="7.40" text-anchor="end" fill="#333" >−0.1</text>
<polyline points="345.00,408.65 370.00,410.40 395.40,404.20" fill="none" stroke="#1f5b92" stroke-width="1.2"/>
<circle cx="345.00" cy="408.65" r="1.65" fill="#1f5b92"/>
<circle cx="370.00" cy="410.40" r="1.65" fill="#1f5b92"/>
<circle cx="395.40" cy="404.20" r="1.65" fill="#1f5b92"/>
<polyline points="345.00,408.65 370.00,389.97 395.40,389.97" fill="none" stroke="#c8143c" stroke-width="1.2"/>
<circle cx="345.00" cy="408.65" r="1.65" fill="#c8143c"/>
<circle cx="370.00" cy="389.97" r="1.65" fill="#c8143c"/>
<circle cx="395.40" cy="389.97" r="1.65" fill="#c8143c"/>
<rect x="433.50" y="343.65" width="78.80" height="84.65" fill="#fff" stroke="#222" stroke-width="1.05"/>
<path d="M433.50 371.50 H512.30" stroke="#222" stroke-width="1.05"/>
<text x="472.90" y="356.85" font-size="7.30" text-anchor="middle" fill="#222" >TCD4<tspan dy="-2.63" font-size="5.11">+</tspan><tspan dy="2.63"> TEMRA</tspan></text>
<text x="472.90" y="366.20" font-size="7.30" text-anchor="middle" fill="#222" >CD127<tspan dy="-2.63" font-size="5.11">low</tspan><tspan dy="2.63"> PD1</tspan><tspan dy="-2.63" font-size="5.11">−</tspan></text>
<path d="M433.50 374.25 h-2.9" stroke="#222" stroke-width="0.7"/>
<text x="428.50" y="377.05" font-size="7.40" text-anchor="end" fill="#333" >0.1</text>
<path d="M433.50 386.90 h-2.9" stroke="#222" stroke-width="0.7"/>
<text x="428.50" y="389.70" font-size="7.40" text-anchor="end" fill="#333" >0.0</text>
<path d="M433.50 399.55 h-2.9" stroke="#222" stroke-width="0.7"/>
<text x="428.50" y="402.35" font-size="7.40" text-anchor="end" fill="#333" >−0.1</text>
<path d="M433.50 412.20 h-2.9" stroke="#222" stroke-width="0.7"/>
<text x="428.50" y="415.00" font-size="7.40" text-anchor="end" fill="#333" >−0.2</text>
<path d="M433.50 424.85 h-2.9" stroke="#222" stroke-width="0.7"/>
<text x="428.50" y="427.65" font-size="7.40" text-anchor="end" fill="#333" >−0.3</text>
<path d="M447.90 428.30 v2.9" stroke="#222" stroke-width="0.7"/>
<text x="447.90" y="438.50" font-size="7.40" text-anchor="middle" fill="#333" >PC</text>
<path d="M472.90 428.30 v2.9" stroke="#222" stroke-width="0.7"/>
<text x="472.90" y="438.50" font-size="7.40" text-anchor="middle" fill="#333" >M1</text>
<path d="M498.30 428.30 v2.9" stroke="#222" stroke-width="0.7"/>
<text x="498.30" y="438.50" font-size="7.40" text-anchor="middle" fill="#333" >M2</text>
<polyline points="447.90,386.90 472.90,412.20 498.30,408.66" fill="none" stroke="#1f5b92" stroke-width="1.2"/>
<circle cx="447.90" cy="386.90" r="1.65" fill="#1f5b92"/>
<circle cx="472.90" cy="412.20" r="1.65" fill="#1f5b92"/>
<circle cx="498.30" cy="408.66" r="1.65" fill="#1f5b92"/>
<polyline points="447.90,386.90 472.90,389.43 498.30,388.29" fill="none" stroke="#c8143c" stroke-width="1.2"/>
<circle cx="447.90" cy="386.90" r="1.65" fill="#c8143c"/>
<circle cx="472.90" cy="389.43" r="1.65" fill="#c8143c"/>
<circle cx="498.30" cy="388.29" r="1.65" fill="#c8143c"/>
<rect x="329.70" y="434.25" width="79.90" height="84.50" fill="#fff" stroke="#222" stroke-width="1.05"/>
<path d="M329.70 462.50 H409.60" stroke="#222" stroke-width="1.05"/>
<text x="369.65" y="446.85" font-size="7.30" text-anchor="middle" fill="#222" >TCD8<tspan dy="-2.63" font-size="5.11">+</tspan><tspan dy="2.63"> EM</tspan></text>
<text x="369.65" y="456.25" font-size="7.30" text-anchor="middle" fill="#222" >CD127<tspan dy="-2.63" font-size="5.11">+</tspan><tspan dy="2.63"> PD1</tspan><tspan dy="-2.63" font-size="5.11">−</tspan></text>
<path d="M329.70 474.51 h-2.9" stroke="#222" stroke-width="0.7"/>
<text x="324.70" y="477.31" font-size="7.40" text-anchor="end" fill="#333" >3</text>
<path d="M329.70 487.34 h-2.9" stroke="#222" stroke-width="0.7"/>
<text x="324.70" y="490.14" font-size="7.40" text-anchor="end" fill="#333" >2</text>
<path d="M329.70 500.17 h-2.9" stroke="#222" stroke-width="0.7"/>
<text x="324.70" y="502.97" font-size="7.40" text-anchor="end" fill="#333" >1</text>
<path d="M329.70 513.00 h-2.9" stroke="#222" stroke-width="0.7"/>
<text x="324.70" y="515.80" font-size="7.40" text-anchor="end" fill="#333" >0</text>
<path d="M344.30 518.75 v2.9" stroke="#222" stroke-width="0.7"/>
<text x="344.30" y="528.95" font-size="7.40" text-anchor="middle" fill="#333" >PC</text>
<path d="M369.30 518.75 v2.9" stroke="#222" stroke-width="0.7"/>
<text x="369.30" y="528.95" font-size="7.40" text-anchor="middle" fill="#333" >M1</text>
<path d="M394.50 518.75 v2.9" stroke="#222" stroke-width="0.7"/>
<text x="394.50" y="528.95" font-size="7.40" text-anchor="middle" fill="#333" >M2</text>
<polyline points="344.30,513.00 369.30,492.47 394.50,500.30" fill="none" stroke="#1f5b92" stroke-width="1.2"/>
<circle cx="344.30" cy="513.00" r="1.65" fill="#1f5b92"/>
<circle cx="369.30" cy="492.47" r="1.65" fill="#1f5b92"/>
<circle cx="394.50" cy="500.30" r="1.65" fill="#1f5b92"/>
<polyline points="344.30,513.00 369.30,476.69 394.50,468.22" fill="none" stroke="#c8143c" stroke-width="1.2"/>
<circle cx="344.30" cy="513.00" r="1.65" fill="#c8143c"/>
<circle cx="369.30" cy="476.69" r="1.65" fill="#c8143c"/>
<circle cx="394.50" cy="468.22" r="1.65" fill="#c8143c"/>
<text x="423.20" y="473.20" font-size="6.60" text-anchor="start" fill="#222" >Treatment</text>
<path d="M424.5 481.40 H433.3" stroke="#1f5b92" stroke-width="1.0"/>
<circle cx="428.9" cy="481.40" r="1.3" fill="#1f5b92"/>
<text x="437.00" y="483.80" font-size="6.60" text-anchor="start" fill="#222" >IRd</text>
<path d="M424.5 492.00 H433.3" stroke="#c8143c" stroke-width="1.0"/>
<circle cx="428.9" cy="492.00" r="1.3" fill="#c8143c"/>
<text x="437.00" y="494.40" font-size="6.60" text-anchor="start" fill="#222" >Rd</text>
</g>
<rect x="0.5" y="0.5" width="519" height="673" fill="none" stroke="#1a1a1a" stroke-width="1.3"/>
</svg>
</body></html>
